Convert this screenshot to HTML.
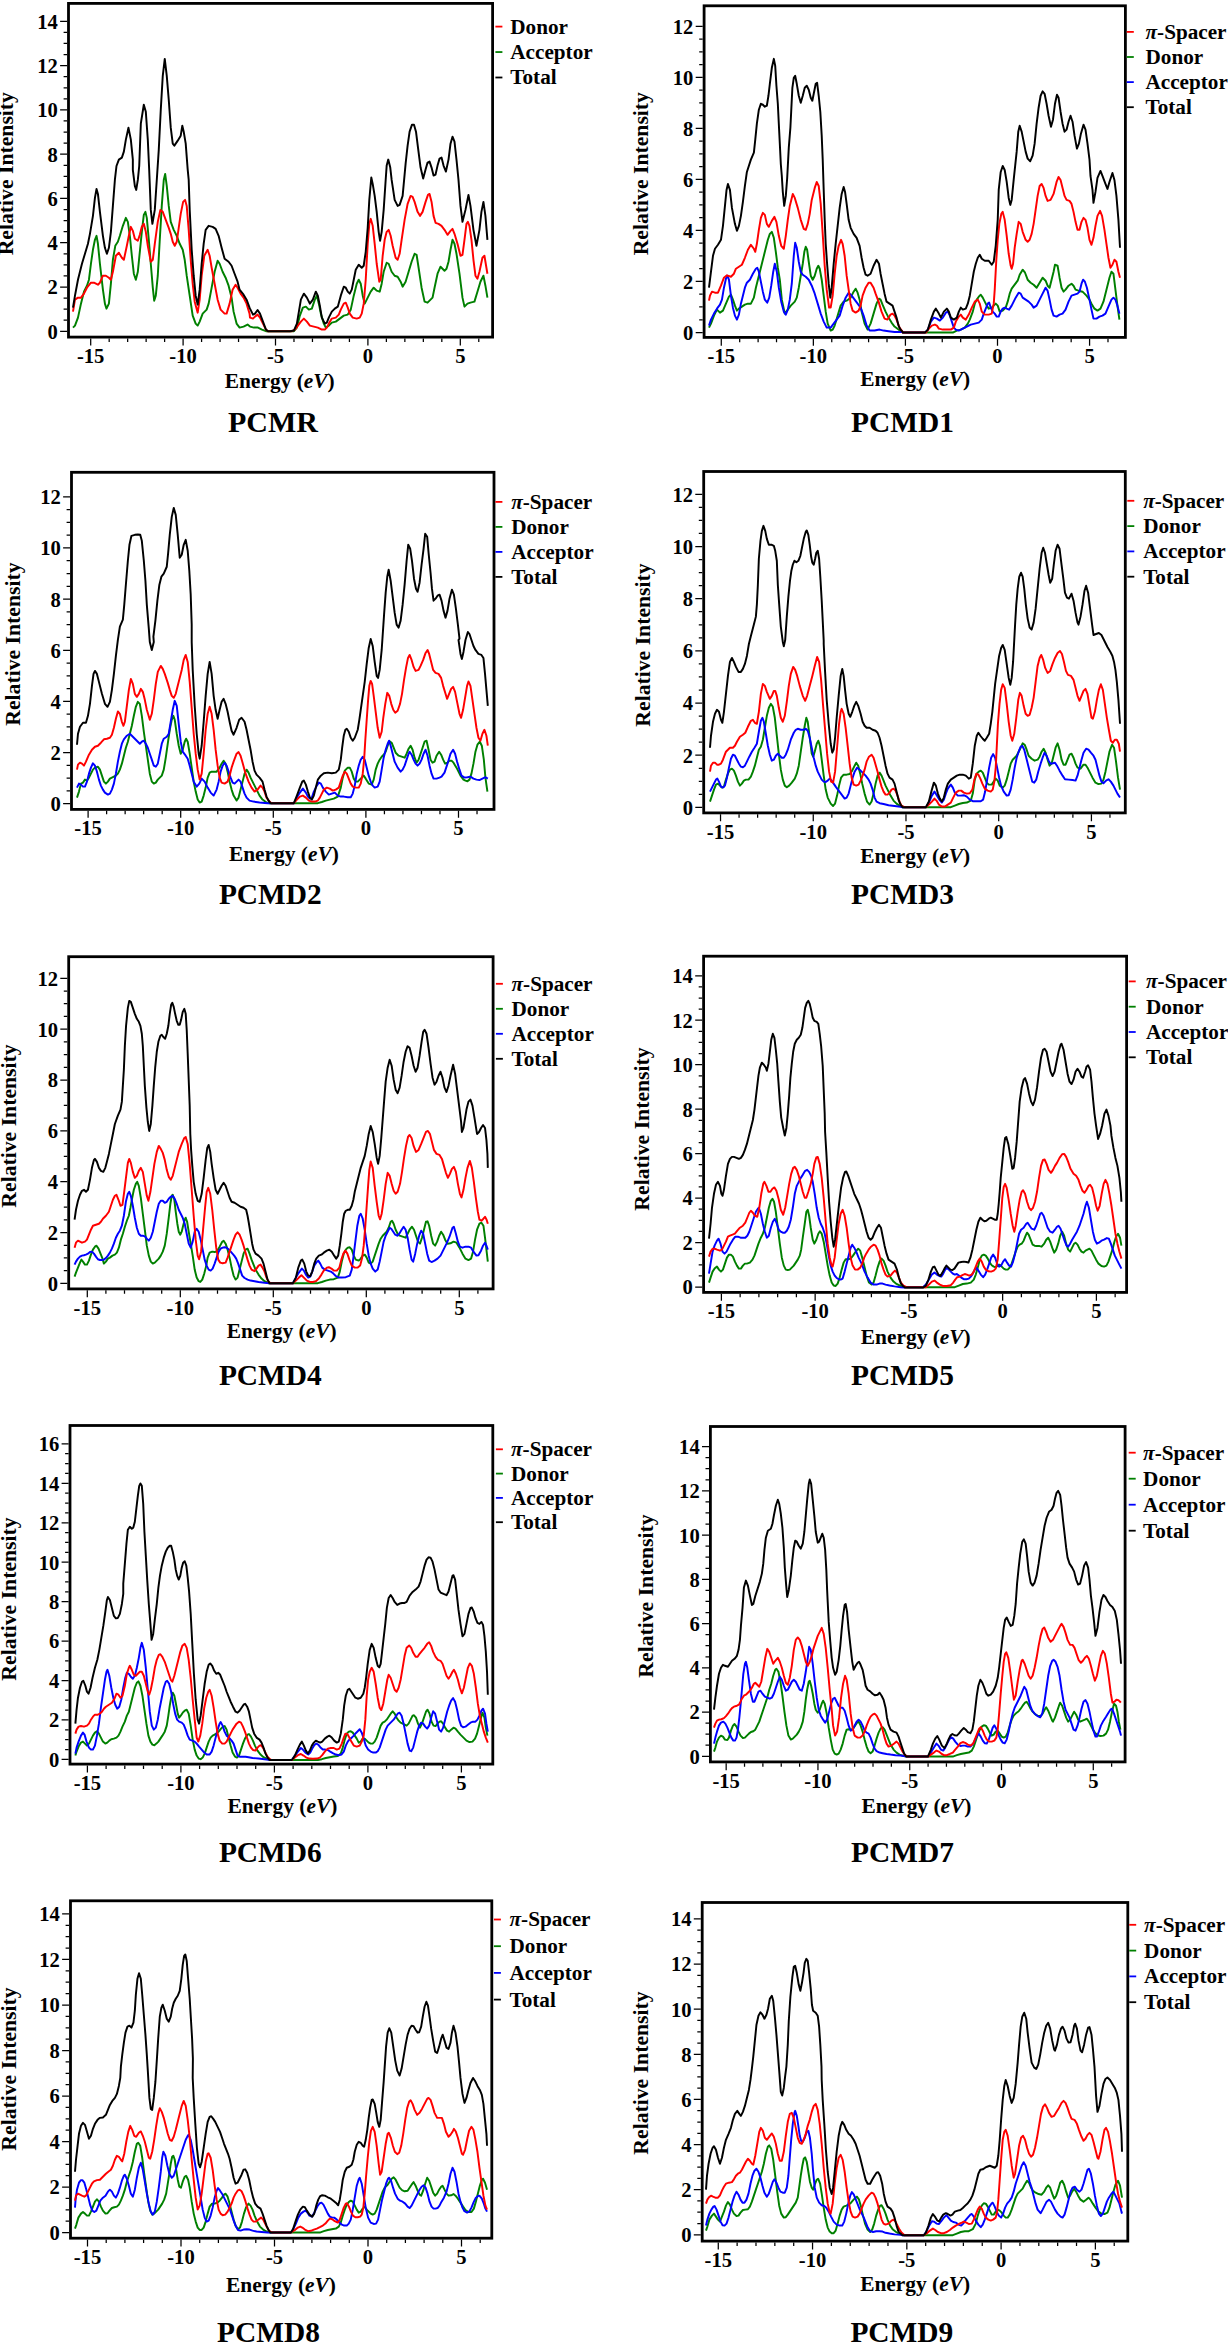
<!DOCTYPE html>
<html><head><meta charset="utf-8"><style>
html,body{margin:0;padding:0;background:#fff;overflow:hidden;}
svg{display:block;}
text{font-family:"Liberation Serif", serif;font-weight:bold;fill:#000;}
.t{font-size:20.6px;}
.lg{font-size:21.2px;}
.xl{font-size:21.4px;}
.yl{font-size:21.7px;}
</style></head><body>
<svg width="1228" height="2343" viewBox="0 0 1228 2343">
<text x="57.8" y="338.7" text-anchor="end" class="t">0</text>
<text x="57.8" y="294.42" text-anchor="end" class="t">2</text>
<text x="57.8" y="250.14" text-anchor="end" class="t">4</text>
<text x="57.8" y="205.86" text-anchor="end" class="t">6</text>
<text x="57.8" y="161.58" text-anchor="end" class="t">8</text>
<text x="57.8" y="117.3" text-anchor="end" class="t">10</text>
<text x="57.8" y="73.02" text-anchor="end" class="t">12</text>
<text x="57.8" y="28.74" text-anchor="end" class="t">14</text>
<text x="90.7" y="363.1" text-anchor="middle" class="t">-15</text>
<text x="183.1" y="363.1" text-anchor="middle" class="t">-10</text>
<text x="275.5" y="363.1" text-anchor="middle" class="t">-5</text>
<text x="367.9" y="363.1" text-anchor="middle" class="t">0</text>
<text x="460.3" y="363.1" text-anchor="middle" class="t">5</text>
<path d="M60.1 331.3H67.1M63.6 320.23H67.1M63.6 309.16H67.1M63.6 298.09H67.1M60.1 287.02H67.1M63.6 275.95H67.1M63.6 264.88H67.1M63.6 253.81H67.1M60.1 242.74H67.1M63.6 231.67H67.1M63.6 220.6H67.1M63.6 209.53H67.1M60.1 198.46H67.1M63.6 187.39H67.1M63.6 176.32H67.1M63.6 165.25H67.1M60.1 154.18H67.1M63.6 143.11H67.1M63.6 132.04H67.1M63.6 120.97H67.1M60.1 109.9H67.1M63.6 98.83H67.1M63.6 87.76H67.1M63.6 76.69H67.1M60.1 65.62H67.1M63.6 54.55H67.1M63.6 43.48H67.1M63.6 32.41H67.1M60.1 21.34H67.1M90.7 338.5V345.5M109.18 338.5V342M127.66 338.5V342M146.14 338.5V342M164.62 338.5V342M183.1 338.5V345.5M201.58 338.5V342M220.06 338.5V342M238.54 338.5V342M257.02 338.5V342M275.5 338.5V345.5M293.98 338.5V342M312.46 338.5V342M330.94 338.5V342M349.42 338.5V342M367.9 338.5V345.5M386.38 338.5V342M404.86 338.5V342M423.34 338.5V342M441.82 338.5V342M460.3 338.5V345.5M478.78 338.5V342" stroke="#000" stroke-width="1.25" fill="none"/>
<polyline points="72.99,327.59 74.98,325.59 77.97,317.61 80.97,303.65 83.96,291.68 86.95,285.69 88.95,279.71 90.94,263.75 92.94,249.78 94.93,239.8 96.53,235.81 97.92,243.79 99.92,263.75 102.91,289.68 104.91,303.65 106.5,308.64 108.9,303.65 110.89,283.7 112.89,259.76 115.28,245.79 117.88,241.8 119.87,235.81 122.86,225.84 125.86,217.86 127.85,221.85 129.85,235.81 131.84,255.77 133.84,273.72 135.83,279.71 137.83,271.73 139.82,251.78 141.82,231.82 143.81,214.87 145.41,211.87 146.8,217.86 148.8,239.8 150.79,263.75 152.79,287.69 154.19,300.66 155.78,295.67 157.78,275.72 159.77,239.8 161.77,205.89 163.76,179.95 165.16,173.97 166.76,185.94 168.75,205.89 170.75,221.85 173.74,229.83 176.73,235.81 179.72,243.79 182.72,249.78 184.71,259.76 186.71,275.72 189.7,295.67 192.69,315.62 195.68,323.6 197.68,325.59 199.68,321.6 202.67,313.62 206.66,309.63 208.65,303.65 211.65,287.69 214.64,271.73 217.63,260.75 219.63,263.75 222.62,271.73 225.61,277.71 228.6,285.69 231.6,297.66 233.59,311.63 236.58,323.6 239.58,327.59 243.57,326.59 247.56,324.6 250,326.59 253.99,327.59 257.98,327.59 261.97,329.58 265.96,331.18 293.89,331.18 296.89,327.59 299.88,315.62 302.87,307.64 305.86,306.64 308.86,309.63 311.85,308.64 314.84,299.66 316.84,295.67 318.83,303.65 320.83,313.62 323.82,323.6 325.81,327.59 328.81,325.59 331.8,322.6 335.79,321.6 339.78,318.61 343.77,315.62 347.76,314.62 350.75,309.63 353.75,295.67 356.74,283.7 358.73,279.71 360.73,283.7 362.72,295.67 364.72,303.65 367.71,297.66 370.7,291.68 373.7,287.69 376.69,290.68 379.68,291.68 381.68,283.7 383.67,271.73 386.67,262.75 388.66,263.75 391.65,271.73 394.65,275.72 397.64,276.71 400.63,281.7 402.63,286.69 405.62,281.7 408.61,271.73 411.6,261.75 414.6,253.77 416.59,254.77 418.59,267.74 421.58,287.69 424.57,301.65 427.57,302.65 430.56,299.66 432.55,297.66 434.55,287.69 437.54,273.72 440.53,266.74 442.53,268.73 444.52,270.73 446.52,268.73 448.51,261.75 450.51,249.78 452.5,239.8 454.5,243.79 456.49,253.77 459.49,273.72 462.48,297.66 464.47,306.64 467.47,303.65 470.46,302.65 474.45,301.65 477.44,291.68 480.44,281.7 483.43,275.72 485.42,285.69 487.42,297.66" fill="none" stroke="#008000" stroke-width="1.95" stroke-linejoin="round"/>
<polyline points="72.99,311.63 74.98,299.66 77.97,297.66 80.97,297.66 83.96,293.67 86.95,287.69 90.94,282.7 93.93,282.7 97.92,284.69 99.92,282.7 102.91,275.72 105.9,275.72 108.9,277.71 110.89,279.71 112.89,271.73 115.88,255.77 118.87,252.77 121.87,257.76 123.86,259.76 126.85,245.79 128.85,235.81 130.84,226.84 132.84,230.83 134.83,238.81 137.83,240.8 139.82,234.82 141.82,226.84 143.81,223.84 145.81,231.82 147.8,245.79 150.79,261.75 152.79,259.76 154.79,243.79 157.78,221.85 160.37,209.88 162.77,211.87 165.76,219.85 168.75,227.83 170.75,233.82 172.74,241.8 174.74,245.79 176.73,241.8 178.73,227.83 180.72,213.87 183.12,201.9 185.11,199.9 186.71,205.89 188.7,229.83 190.7,259.76 192.69,283.7 194.69,301.65 197.68,312.63 199.68,299.66 201.67,275.72 204.26,255.77 207.66,249.78 209.65,255.77 211.65,267.74 214.64,283.7 217.63,299.66 220.62,309.63 224.61,313.62 226.61,313.62 229.6,303.65 232.59,289.68 235.59,284.69 237.58,287.69 240.57,293.67 243.57,297.66 246.56,303.65 249.55,313.62 250,317.61 252.99,318.61 254.99,316.62 257.58,314.62 259.98,317.61 262.97,323.6 265.96,329.58 267.96,331.18 291.9,331.18 294.89,329.58 297.88,325.59 300.88,321.6 303.87,318.61 306.86,321.6 309.85,325.59 313.84,326.59 317.83,327.59 321.82,329.58 324.82,329.58 326.81,327.59 328.81,323.6 331.8,318.61 335.79,317.61 338.78,314.62 340.78,309.63 343.77,303.65 345.77,302.65 347.76,307.64 349.76,313.62 352.75,317.61 356.74,318.61 359.73,317.61 361.73,313.62 363.72,303.65 365.72,279.71 367.71,243.79 369.31,223.84 370.7,218.86 372.7,225.84 374.69,243.79 376.69,263.75 379.28,281.7 380.68,279.71 382.68,255.77 384.67,239.8 386.67,231.82 388.66,229.83 390.66,235.81 392.65,245.79 395.64,257.76 397.64,259.76 399.63,253.77 401.63,239.8 404.62,219.85 407.61,203.89 410.61,195.91 412.6,196.91 414.6,201.9 417.59,211.87 419.98,215.86 422.58,211.87 425.57,201.9 427.96,194.91 429.56,193.92 431.56,201.9 433.55,215.86 435.55,222.85 438.54,223.84 441.53,225.84 444.52,229.83 447.52,234.82 450.51,230.83 452.5,228.83 454.5,233.82 457.49,243.79 460.48,255.77 462.48,254.77 464.47,239.8 466.47,223.84 467.87,221.85 469.46,225.84 471.46,239.8 473.45,259.76 475.45,275.72 477.44,278.71 479.44,271.73 482.43,257.76 484.43,255.77 486.42,267.74 487.42,273.72" fill="none" stroke="#ff0000" stroke-width="1.95" stroke-linejoin="round"/>
<polyline points="72.99,307.64 74.98,295.67 77.97,279.71 81.96,263.75 84.96,253.77 87.95,243.79 89.94,233.82 92.94,215.86 94.93,197.91 96.53,188.93 97.92,193.92 99.92,211.87 102.91,235.81 104.91,247.79 106.9,253.77 108.9,247.79 110.89,231.82 112.89,205.89 114.88,179.95 116.48,165.99 118.87,159.61 121.87,157.61 123.86,151.63 125.86,139.66 128.45,127.69 130.84,139.66 132.84,159.61 132.84,169.98 134.83,185.94 136.23,189.93 137.83,179.95 139.22,165.99 140.82,123.7 143.81,104.74 145.81,111.73 147.8,139.66 149.2,169.98 150.79,209.88 152.39,223.84 154.79,209.88 156.78,179.95 158.78,149.63 160.77,109.73 162.77,75.81 164.76,58.86 166.76,75.81 168.75,99.76 170.75,127.69 172.74,143.65 174.34,145.64 177.73,140.66 180.72,135.67 182.32,125.69 183.71,131.68 185.71,143.65 187.7,169.58 188.7,179.95 189.7,209.88 191.69,249.78 193.69,275.72 195.68,295.67 197.68,304.65 199.68,289.68 201.67,263.75 203.67,243.79 205.66,229.83 208.65,225.84 212.64,226.84 215.64,228.83 218.63,235.81 221.62,247.79 224.61,258.76 228.6,261.75 231.6,265.74 234.59,273.72 237.58,281.7 239.58,289.68 243.57,294.67 246.56,299.66 249.55,307.64 250,308.64 252.99,314.62 254.99,313.62 257.58,310.03 259.98,313.62 262.97,321.6 265.96,329.58 267.96,331.18 289.9,331.18 293.89,330.58 296.89,323.6 298.88,311.63 300.88,299.66 303.87,293.67 306.86,297.66 309.85,303.65 312.85,299.66 315.84,291.68 317.83,295.67 319.83,305.64 321.82,317.61 324.82,323.6 326.81,322.6 328.81,317.61 331.8,311.63 334.79,308.64 337.79,306.64 340.78,295.67 343.77,286.69 345.77,287.69 347.76,291.68 349.76,293.67 351.75,289.68 353.75,279.71 355.74,269.73 358.73,264.74 361.73,267.74 363.72,265.74 365.72,251.78 367.71,227.83 369.31,199.9 371.3,177.57 372.7,183.95 374.69,195.91 376.69,211.87 378.68,231.82 380.08,240.8 381.68,231.82 383.67,209.88 385.67,179.95 386.67,165.59 388.26,159.61 390.26,167.59 391.65,179.95 394.65,199.9 397.64,205.89 399.63,204.89 402.63,195.91 405.62,163.6 407.61,145.64 409.61,131.68 412,124.69 414,124.69 415.99,131.68 417.99,147.64 420.58,167.59 423.18,178.56 425.57,169.58 427.57,162.6 429.56,161.6 431.56,167.59 433.55,175.57 435.55,174.57 437.54,165.59 439.54,158.61 441.53,157.61 443.53,165.59 445.92,171.58 448.51,159.61 450.51,143.65 452.5,136.67 454.5,141.65 456.49,159.61 458.49,179.95 460.48,205.89 462.48,221.85 465.47,209.88 468.46,194.91 470.46,205.89 473.45,229.83 476.45,245.79 479.44,229.83 481.43,211.87 483.43,201.9 485.42,215.86 487.42,239.8" fill="none" stroke="#000000" stroke-width="1.95" stroke-linejoin="round"/>
<rect x="68.5" y="3.4" width="424.1" height="333.7" fill="none" stroke="#000" stroke-width="2.8"/>
<line x1="495.4" y1="26.6" x2="502.4" y2="26.6" stroke="#ff0000" stroke-width="1.8"/>
<text x="510.3" y="33.5" class="lg">Donor</text>
<line x1="495.4" y1="52.05" x2="502.4" y2="52.05" stroke="#008000" stroke-width="1.8"/>
<text x="510.3" y="58.95" class="lg">Acceptor</text>
<line x1="495.4" y1="77.5" x2="502.4" y2="77.5" stroke="#000000" stroke-width="1.8"/>
<text x="510.3" y="84.4" class="lg">Total</text>
<text x="228" y="431.9" class="ti" font-size="30">PCMR</text>
<text x="224.8" y="388" class="xl">Energy (<tspan font-style="italic">eV</tspan>)</text>
<text transform="translate(13,173.7) rotate(-90)" text-anchor="middle" class="yl">Relative Intensity</text>
<text x="693.4" y="339.9" text-anchor="end" class="t">0</text>
<text x="693.4" y="288.88" text-anchor="end" class="t">2</text>
<text x="693.4" y="237.86" text-anchor="end" class="t">4</text>
<text x="693.4" y="186.84" text-anchor="end" class="t">6</text>
<text x="693.4" y="135.82" text-anchor="end" class="t">8</text>
<text x="693.4" y="84.8" text-anchor="end" class="t">10</text>
<text x="693.4" y="33.78" text-anchor="end" class="t">12</text>
<text x="721.28" y="363.4" text-anchor="middle" class="t">-15</text>
<text x="813.35" y="363.4" text-anchor="middle" class="t">-10</text>
<text x="905.42" y="363.4" text-anchor="middle" class="t">-5</text>
<text x="997.5" y="363.4" text-anchor="middle" class="t">0</text>
<text x="1089.58" y="363.4" text-anchor="middle" class="t">5</text>
<path d="M695.7 332.5H702.7M699.2 319.75H702.7M699.2 306.99H702.7M699.2 294.24H702.7M695.7 281.48H702.7M699.2 268.73H702.7M699.2 255.97H702.7M699.2 243.21H702.7M695.7 230.46H702.7M699.2 217.7H702.7M699.2 204.95H702.7M699.2 192.19H702.7M695.7 179.44H702.7M699.2 166.69H702.7M699.2 153.93H702.7M699.2 141.17H702.7M695.7 128.42H702.7M699.2 115.66H702.7M699.2 102.91H702.7M699.2 90.15H702.7M695.7 77.4H702.7M699.2 64.64H702.7M699.2 51.89H702.7M699.2 39.13H702.7M695.7 26.38H702.7M721.28 338.8V345.8M739.69 338.8V342.3M758.11 338.8V342.3M776.52 338.8V342.3M794.93 338.8V342.3M813.35 338.8V345.8M831.76 338.8V342.3M850.18 338.8V342.3M868.6 338.8V342.3M887.01 338.8V342.3M905.42 338.8V345.8M923.84 338.8V342.3M942.25 338.8V342.3M960.67 338.8V342.3M979.09 338.8V342.3M997.5 338.8V345.8M1015.91 338.8V342.3M1034.33 338.8V342.3M1052.74 338.8V342.3M1071.16 338.8V342.3M1089.58 338.8V345.8M1107.99 338.8V342.3" stroke="#000" stroke-width="1.25" fill="none"/>
<polyline points="708.99,327.59 710.98,323.6 713.97,315.62 716.97,309.63 719.96,312.63 722.95,310.63 725.94,303.65 728.94,296.67 730.93,294.67 732.93,299.66 734.92,305.64 736.92,310.63 738.91,308.64 741.9,306.64 744.9,304.65 747.89,303.65 750.88,303.65 753.88,297.66 755.87,287.69 758.86,275.72 761.86,263.75 764.85,251.78 767.84,239.8 769.84,233.82 771.83,231.82 773.83,237.81 775.82,251.78 777.82,267.74 779.81,279.71 781.81,299.66 784.8,313.62 787.79,309.63 790.79,305.64 794.78,301.65 796.77,297.66 798.77,287.69 800.76,275.72 802.76,263.75 804.35,251.78 805.75,246.79 807.14,249.78 808.74,261.75 810.74,275.72 812.73,279.71 814.73,275.72 816.72,268.73 818.32,265.74 819.71,268.73 821.71,279.71 823.7,295.67 825.7,311.63 827.69,323.6 830.69,330.58 832.68,329.58 834.68,325.59 837.67,315.62 840.66,305.64 843.66,301.65 846.65,300.66 850.64,297.66 853.63,291.68 855.63,288.68 857.62,292.68 859.62,299.66 861.61,311.63 864.6,323.6 867.6,329.58 870.59,323.6 873.58,313.62 876.57,303.65 878.97,298.66 880.57,299.66 882.56,304.65 885.55,311.63 888.55,317.61 891.54,322.6 894.53,326.59 898.52,329.58 902.51,331.58 902.95,332.58 952.83,332.58 956.82,330.58 960.81,329.58 964.8,327.59 967.79,323.6 969.79,319.61 972.78,311.63 974.78,303.65 976.77,299.66 978.77,296.67 980.76,294.67 982.76,297.66 984.75,301.65 986.75,305.64 988.74,308.64 991.73,307.64 993.73,305.64 995.72,303.65 997.72,305.64 999.71,311.63 1002.71,310.63 1005.7,307.64 1007.69,301.65 1009.69,293.67 1011.68,288.68 1014.68,284.69 1017.67,280.7 1019.67,274.72 1022.66,269.73 1025.05,272.72 1027.65,279.71 1030.64,282.7 1033.63,284.69 1036.62,287.69 1039.62,282.7 1042.61,277.71 1045.6,280.7 1047.6,285.69 1049.59,287.69 1051.59,279.71 1053.58,271.73 1054.98,264.74 1057.57,265.74 1059.57,277.71 1061.56,287.69 1063.56,291.68 1065.55,289.68 1068.55,285.69 1071.54,283.7 1073.53,285.69 1075.53,289.68 1078.52,290.68 1082.51,291.68 1086.5,295.67 1089.49,299.66 1091.49,303.65 1094.48,308.64 1097.47,310.63 1100.47,308.64 1103.46,301.65 1106.45,289.68 1109.45,277.71 1111.44,271.73 1113.44,273.72 1115.43,289.68 1117.43,305.64 1119.42,319.61" fill="none" stroke="#008000" stroke-width="1.95" stroke-linejoin="round"/>
<polyline points="708.99,325.59 710.98,319.61 713.97,313.62 716.97,308.64 719.96,304.65 721.95,299.66 723.95,287.69 725.94,278.71 727.34,275.72 728.94,279.71 730.93,295.67 732.93,307.64 734.92,315.62 736.92,319.61 738.91,314.62 740.91,303.65 742.9,295.67 744.9,287.69 746.89,282.7 749.89,279.71 752.88,273.72 755.87,268.73 757.27,267.74 758.86,271.73 760.86,281.7 762.85,291.68 764.85,299.66 767.24,302.65 769.24,297.66 771.23,285.69 773.23,271.73 774.82,263.75 776.82,271.73 778.81,287.69 781.21,301.65 783.8,311.63 785.8,314.62 787.79,309.63 789.79,299.66 791.78,283.7 793.78,255.77 795.17,242.8 796.77,247.79 798.77,261.75 800.76,271.73 802.76,274.72 805.75,276.71 808.74,279.71 811.73,285.69 814.73,293.67 817.72,303.65 820.71,313.62 823.7,321.6 826.7,327.59 830.69,327.59 833.68,323.6 836.67,319.61 839.67,315.62 842.66,305.64 845.65,297.66 848.64,292.68 851.64,295.67 854.63,299.66 857.62,303.65 860.61,307.64 863.61,315.62 866.6,325.59 869.59,330.58 874.58,330.58 879.57,329.58 883.56,330.58 888.55,331.18 894.53,331.98 902.51,331.98 902.95,332.58 924.9,332.58 927.89,329.58 930.88,321.6 933.88,317.61 936.87,318.61 939.86,320.61 942.85,317.61 945.85,312.63 947.84,311.63 949.84,315.62 951.83,321.6 953.83,327.59 955.82,329.58 958.81,330.58 962.8,328.59 966.79,326.59 970.79,324.6 974.78,323.6 978.77,322.6 981.76,319.61 983.75,313.62 985.75,308.64 987.74,303.65 989.14,302.65 990.74,307.64 992.73,311.63 994.73,313.62 996.72,316.62 998.72,316.62 1000.71,311.63 1002.71,308.64 1004.7,307.64 1006.7,308.64 1009.09,309.63 1011.68,305.64 1013.68,301.65 1015.68,297.66 1018.67,292.68 1020.66,293.67 1022.66,297.66 1025.65,299.66 1028.64,301.65 1031.64,304.65 1033.63,307.64 1036.62,305.64 1039.62,299.66 1042.61,293.67 1045.6,287.69 1047.6,290.68 1049.59,299.66 1051.59,309.63 1053.58,315.62 1056.57,316.62 1059.57,314.62 1062.56,313.62 1065.55,309.63 1068.55,301.65 1071.54,295.67 1074.53,294.67 1077.52,293.67 1079.52,291.68 1081.51,283.7 1083.11,279.71 1084.91,281.7 1086.9,287.69 1089.49,299.66 1091.49,309.63 1093.48,318.61 1096.48,318.61 1099.47,316.62 1102.46,315.62 1105.46,313.62 1108.45,306.64 1111.44,299.66 1113.44,297.66 1115.43,299.66 1117.43,305.64 1119.42,313.62" fill="none" stroke="#0000ff" stroke-width="1.95" stroke-linejoin="round"/>
<polyline points="708.99,300.66 709.98,295.67 711.98,291.68 714.97,292.68 717.96,292.68 720.96,285.69 723.95,277.71 726.94,275.32 730.93,276.71 733.92,273.72 735.92,268.73 738.91,266.74 741.9,264.74 744.9,257.76 747.89,249.78 750.88,244.79 753.88,248.78 755.27,251.78 756.87,243.79 758.86,229.83 760.86,217.86 762.85,212.87 764.85,214.87 766.84,223.84 768.84,226.84 771.83,220.85 774.43,216.86 776.42,221.85 778.81,235.81 781.21,245.79 783.8,248.78 785.8,235.81 787.79,219.85 789.79,205.89 792.78,193.92 794.78,197.91 797.77,207.88 800.76,219.85 803.75,228.83 805.75,229.83 807.74,223.84 809.74,213.87 811.73,199.9 814.73,187.93 816.72,181.95 818.72,185.94 820.71,203.89 822.71,233.82 824.7,265.74 826.7,289.68 829.09,307.64 830.69,307.64 832.68,295.67 834.68,273.72 836.67,255.77 838.67,245.79 841.06,239.8 842.66,243.79 844.65,255.77 846.65,275.72 848.64,289.68 850.64,303.65 852.63,310.63 855.63,312.63 858.62,310.63 860.61,305.64 862.61,295.67 865.6,287.69 868.59,282.7 870.59,282.7 873.58,287.69 875.58,293.67 878.57,301.65 881.56,311.63 884.56,318.61 887.55,319.61 890.54,314.62 892.54,313.62 894.53,315.62 896.53,319.61 899.52,327.59 902.51,331.58 902.95,332.58 925.89,332.58 928.89,328.59 931.88,325.59 934.87,324.6 936.87,325.59 938.86,328.59 942.85,329.58 946.84,329.58 950.83,329.58 953.83,327.59 955.82,321.6 958.81,316.62 960.81,314.62 962.8,317.61 965.8,319.61 968.79,314.62 971.78,307.64 974.78,301.65 977.77,299.66 979.76,303.65 981.76,311.63 984.75,314.62 988.74,314.62 991.73,313.62 993.73,303.65 994.73,289.68 996.32,259.76 997.72,239.8 999.32,223.84 1001.31,213.87 1002.71,211.87 1004.7,219.85 1006.7,235.81 1008.69,253.77 1010.69,265.74 1011.68,268.73 1013.08,263.75 1014.68,247.79 1016.67,233.82 1018.67,221.85 1020.66,223.84 1022.66,231.82 1025.65,239.8 1027.65,241.8 1029.64,239.8 1031.64,233.82 1033.63,223.84 1035.63,209.88 1037.62,195.91 1039.62,185.94 1041.61,183.94 1043.61,187.93 1045.6,195.91 1047.6,200.9 1050.59,199.9 1053.58,193.92 1056.57,181.95 1058.57,176.96 1060.57,179.95 1062.56,187.93 1064.56,195.91 1066.55,199.9 1069.54,200.9 1071.54,203.89 1073.53,211.87 1075.53,221.85 1077.52,229.83 1079.52,229.83 1081.51,221.85 1083.51,217.86 1085.5,219.85 1087.5,227.83 1089.49,239.8 1091.49,244.79 1093.48,237.81 1095.48,225.84 1097.47,215.86 1100.07,210.88 1102.06,215.86 1104.46,229.83 1106.45,243.79 1108.45,257.76 1110.44,267.74 1112.44,264.74 1114.43,259.76 1116.43,261.75 1118.42,271.73 1120.02,277.71" fill="none" stroke="#ff0000" stroke-width="1.95" stroke-linejoin="round"/>
<polyline points="708.99,287.69 710.98,271.73 712.98,255.77 714.97,248.78 717.96,244.79 720.96,239.8 722.95,225.84 724.95,205.89 726.54,189.93 727.94,183.94 729.93,189.93 731.93,207.88 734.92,223.84 736.92,230.83 738.91,225.84 740.91,215.86 742.9,201.9 744.9,185.94 746.89,171.97 750.88,159.61 753.88,152.63 755.27,139.66 756.87,123.7 758.86,109.73 760.86,103.75 762.85,104.74 764.85,106.74 766.84,105.74 768.44,95.77 769.84,83.79 771.83,67.83 773.83,58.86 775.22,65.84 776.42,85.79 777.82,103.75 778.81,123.7 779.81,143.65 780.81,163.99 781.81,175.96 782.8,191.92 784.2,205.89 785.8,195.91 787.19,177.96 788.79,147.64 790.39,127.69 791.38,107.74 792.38,87.79 793.78,77.81 795.17,75.81 796.77,83.79 798.77,95.77 800.76,102.75 802.76,95.77 804.75,87.79 806.75,85.79 808.74,89.78 810.74,97.76 812.33,100.75 813.73,93.77 815.72,83.79 817.12,82.8 818.72,95.77 820.31,111.73 821.71,135.67 822.71,159.61 823.7,189.93 824.7,219.85 825.7,243.79 827.1,263.75 828.69,283.7 830.29,297.66 831.68,287.69 833.68,263.75 835.68,243.79 837.67,225.84 839.67,207.88 841.66,193.92 843.66,186.93 845.05,191.92 846.65,203.89 848.64,219.85 850.64,227.83 853.63,233.82 856.62,237.81 859.62,245.79 861.61,257.76 863.61,267.74 865.6,274.72 867.6,275.72 870.59,273.72 873.58,265.74 876.57,259.76 878.97,263.75 880.57,273.72 882.56,283.7 884.56,293.67 886.55,301.65 889.54,303.65 892.54,305.64 894.53,311.63 896.53,317.61 898.52,325.59 900.52,329.58 902.51,331.98 902.95,332.58 924.9,332.58 927.89,329.58 930.88,319.61 933.88,311.63 935.87,308.64 938.86,313.62 940.86,317.61 943.85,311.63 946.84,308.64 948.84,311.63 950.83,317.61 953.83,319.61 956.82,317.61 958.81,311.63 960.81,307.64 962.8,309.63 965.8,308.64 967.79,303.65 969.79,295.67 971.78,283.7 973.78,271.73 975.77,263.75 977.77,257.76 979.76,254.77 981.76,258.76 984.75,260.75 988.74,260.75 991.73,264.74 993.73,261.75 995.72,245.79 997.72,219.85 998.72,189.93 1000.71,171.97 1002.71,165.99 1004.7,169.98 1006.7,181.95 1008.69,197.91 1010.29,204.89 1011.68,199.9 1013.68,179.95 1016.67,151.63 1018.27,131.68 1019.67,125.69 1021.66,131.68 1023.66,141.65 1025.65,151.63 1027.65,158.61 1030.24,161.21 1032.63,155.62 1034.63,143.65 1036.62,123.7 1038.62,107.74 1040.61,95.77 1042.61,91.38 1044.6,93.77 1046.6,103.75 1048.59,115.72 1050.99,126.69 1052.98,119.71 1054.98,103.75 1056.97,94.77 1058.57,97.76 1060.57,111.73 1062.56,123.7 1064.56,131.68 1066.55,129.68 1068.55,121.7 1070.54,115.72 1072.54,121.7 1074.53,135.67 1076.93,148.64 1078.92,143.65 1080.92,133.67 1083.51,124.69 1085.5,129.68 1087.5,143.65 1089.49,159.61 1090.49,175.96 1092.49,189.93 1093.48,202.89 1095.48,191.92 1097.47,177.96 1100.47,170.97 1102.46,175.96 1105.46,183.94 1107.45,188.93 1109.45,181.95 1112.44,172.97 1114.43,179.95 1116.43,195.91 1118.42,219.85 1120.02,247.79" fill="none" stroke="#000000" stroke-width="1.95" stroke-linejoin="round"/>
<rect x="704.1" y="5.8" width="421.3" height="331.6" fill="none" stroke="#000" stroke-width="2.8"/>
<line x1="1126.8" y1="31.9" x2="1133.8" y2="31.9" stroke="#ff0000" stroke-width="1.8"/>
<text x="1145.5" y="38.8" class="lg"><tspan font-style="italic">π</tspan>-Spacer</text>
<line x1="1126.8" y1="57" x2="1133.8" y2="57" stroke="#008000" stroke-width="1.8"/>
<text x="1145.5" y="63.9" class="lg">Donor</text>
<line x1="1126.8" y1="82.1" x2="1133.8" y2="82.1" stroke="#0000ff" stroke-width="1.8"/>
<text x="1145.5" y="89" class="lg">Acceptor</text>
<line x1="1126.8" y1="107.2" x2="1133.8" y2="107.2" stroke="#000000" stroke-width="1.8"/>
<text x="1145.5" y="114.1" class="lg">Total</text>
<text x="851.1" y="431.7" class="ti" font-size="29.4">PCMD1</text>
<text x="860.2" y="386.1" class="xl">Energy (<tspan font-style="italic">eV</tspan>)</text>
<text transform="translate(647.9,173.7) rotate(-90)" text-anchor="middle" class="yl">Relative Intensity</text>
<text x="60.8" y="811.1" text-anchor="end" class="t">0</text>
<text x="60.8" y="759.95" text-anchor="end" class="t">2</text>
<text x="60.8" y="708.8" text-anchor="end" class="t">4</text>
<text x="60.8" y="657.65" text-anchor="end" class="t">6</text>
<text x="60.8" y="606.5" text-anchor="end" class="t">8</text>
<text x="60.8" y="555.35" text-anchor="end" class="t">10</text>
<text x="60.8" y="504.2" text-anchor="end" class="t">12</text>
<text x="88.1" y="835.4" text-anchor="middle" class="t">-15</text>
<text x="180.7" y="835.4" text-anchor="middle" class="t">-10</text>
<text x="273.3" y="835.4" text-anchor="middle" class="t">-5</text>
<text x="365.9" y="835.4" text-anchor="middle" class="t">0</text>
<text x="458.5" y="835.4" text-anchor="middle" class="t">5</text>
<path d="M63.1 803.7H70.1M66.6 790.91H70.1M66.6 778.12H70.1M66.6 765.34H70.1M63.1 752.55H70.1M66.6 739.76H70.1M66.6 726.98H70.1M66.6 714.19H70.1M63.1 701.4H70.1M66.6 688.61H70.1M66.6 675.83H70.1M66.6 663.04H70.1M63.1 650.25H70.1M66.6 637.46H70.1M66.6 624.68H70.1M66.6 611.89H70.1M63.1 599.1H70.1M66.6 586.31H70.1M66.6 573.53H70.1M66.6 560.74H70.1M63.1 547.95H70.1M66.6 535.16H70.1M66.6 522.38H70.1M66.6 509.59H70.1M63.1 496.8H70.1M88.1 810.8V817.8M106.62 810.8V814.3M125.14 810.8V814.3M143.66 810.8V814.3M162.18 810.8V814.3M180.7 810.8V817.8M199.22 810.8V814.3M217.74 810.8V814.3M236.26 810.8V814.3M254.78 810.8V814.3M273.3 810.8V817.8M291.82 810.8V814.3M310.34 810.8V814.3M328.86 810.8V814.3M347.38 810.8V814.3M365.9 810.8V817.8M384.42 810.8V814.3M402.94 810.8V814.3M421.46 810.8V814.3M439.98 810.8V814.3M458.5 810.8V817.8M477.02 810.8V814.3" stroke="#000" stroke-width="1.25" fill="none"/>
<polyline points="76.98,797.59 78.98,791.6 80.97,783.62 82.97,782.63 84.96,779.63 86.96,780.63 88.95,777.64 90.95,773.65 92.94,769.66 94.94,767.66 97.93,766.67 99.93,769.66 101.92,775.64 103.92,781.63 105.91,783.62 107.91,781.63 109.9,778.64 111.9,777.64 113.89,776.64 115.89,775.64 117.88,773.65 119.88,769.66 121.87,763.67 123.87,755.69 125.86,747.71 127.86,741.73 129.85,733.75 131.85,725.77 133.84,715.79 135.84,706.81 137.83,701.82 139.83,703.82 141.82,715.79 143.82,731.75 145.81,745.72 147.81,759.68 149.8,773.65 151.8,781.63 153.79,783.62 155.79,782.63 157.79,779.63 159.78,777.64 161.78,775.64 163.77,769.66 165.77,757.69 167.76,743.72 169.76,729.76 171.75,719.78 173.35,715.79 174.74,719.78 176.74,733.75 178.73,745.72 180.73,753.7 182.72,749.71 184.72,741.73 186.12,738.73 187.71,741.73 189.71,753.7 191.7,767.66 193.7,781.63 195.69,791.6 197.69,799.58 199.68,802.58 201.68,801.58 203.67,795.59 205.67,787.61 207.66,777.64 209.66,772.65 211.65,771.65 213.65,771.65 216.64,771.65 219.63,767.66 221.63,763.67 223.62,760.68 225.62,763.67 227.61,771.65 229.61,781.63 231.6,789.61 233.6,795.59 236.59,800.58 238.59,797.59 240.58,789.61 242.58,781.63 244.57,773.65 246.57,769.66 248.56,772.65 250.56,777.64 252.55,781.63 254.55,785.62 256.54,789.61 259.54,795.59 262.53,799.58 266.52,802.58 269.51,803.18 271.95,803.18 317.83,803.18 321.82,801.98 325.81,800.58 329.8,799.58 333.79,798.59 337.79,796.59 340.78,787.61 342.77,777.64 344.77,770.66 347.76,767.66 349.76,767.66 351.75,771.65 353.75,778.64 355.74,781.63 357.74,781.63 359.73,779.63 361.73,777.64 363.72,775.64 365.72,778.64 368.71,783.62 371.7,784.62 373.7,779.63 375.69,769.66 377.69,763.67 379.68,759.68 381.68,756.69 383.67,754.69 385.67,751.7 387.66,745.72 389.66,741.33 391.65,742.72 393.65,747.71 395.64,752.7 398.64,755.69 401.63,756.69 404.62,757.69 406.62,753.7 408.61,748.71 410.61,745.72 412.6,749.71 414.6,757.69 416.59,762.68 418.59,759.68 420.58,753.7 422.58,747.71 424.57,741.73 426.57,740.73 428.56,749.71 430.56,759.68 432.55,762.68 434.55,761.68 436.54,755.69 439.14,751.7 441.13,754.69 443.13,759.68 445.12,763.67 447.52,762.68 449.51,760.68 451.51,760.68 453.5,762.68 456.49,767.66 458.49,771.65 460.48,775.64 463.48,779.63 465.47,780.63 467.47,781.23 469.46,779.63 471.46,773.65 473.45,763.67 475.45,751.7 477.44,744.72 479.84,741.73 481.83,745.72 483.83,759.68 485.42,777.64 487.42,791.6" fill="none" stroke="#008000" stroke-width="1.95" stroke-linejoin="round"/>
<polyline points="76.98,787.61 78.98,783.62 80.97,784.62 82.97,786.62 84.96,786.62 86.96,781.63 88.95,773.65 90.95,767.66 92.94,763.27 94.94,765.67 96.93,771.65 98.93,779.63 100.92,785.62 102.92,789.61 104.91,792.6 107.91,794.6 109.9,793.6 111.9,789.61 113.89,783.62 115.89,773.65 117.88,761.68 119.88,751.7 121.87,743.72 123.87,739.33 126.86,735.74 129.85,733.75 131.85,735.74 134.84,738.73 137.83,741.73 139.83,743.72 141.82,741.73 143.82,740.73 145.81,743.72 147.81,747.71 149.8,753.7 151.8,759.68 153.79,765.67 155.79,766.67 157.79,763.67 159.78,753.7 161.78,743.72 163.77,738.73 166.76,736.74 168.76,733.75 170.75,721.78 172.75,709.8 174.74,700.83 176.74,705.81 178.73,723.77 180.73,741.73 182.72,751.7 185.72,755.69 187.71,758.68 189.71,765.67 193.7,781.63 196.69,786.62 199.28,783.62 201.68,778.64 204.67,781.63 207.66,787.61 210.66,792.6 213.65,795.59 216.64,789.61 218.64,781.63 220.63,771.65 222.63,765.67 224.62,762.68 226.62,765.67 228.61,771.65 230.61,777.64 232.6,782.63 234.6,783.62 236.59,781.63 238.59,779.63 240.58,781.63 242.58,787.61 244.57,793.6 246.57,797.59 249.56,800.58 253.55,801.58 259.54,802.58 267.52,803.18 270.51,803.18 271.95,803.18 293.89,803.18 296.89,797.59 299.88,792.6 302.87,788.61 305.86,792.6 307.86,796.59 309.85,798.59 311.85,797.59 313.84,791.6 316.84,785.62 318.83,782.63 320.83,783.62 322.82,787.61 325.81,791.6 328.81,794.6 331.8,793.6 334.79,792.6 337.79,795.59 340.78,796.59 343.77,796.59 347.76,797.19 350.75,797.19 352.75,793.6 354.74,785.62 356.74,773.65 358.73,765.67 360.73,759.68 362.72,756.69 364.72,759.68 366.71,767.66 368.71,775.64 370.7,781.63 372.7,785.62 374.69,787.61 377.69,786.62 379.68,781.63 381.68,769.66 383.67,757.69 385.67,749.71 387.66,743.72 389.06,740.73 390.66,745.72 392.65,753.7 394.65,761.68 397.64,767.66 400.63,771.65 402.63,769.66 404.62,765.67 406.62,759.68 408.61,753.7 409.61,751.7 411.6,754.69 413.6,759.68 415.59,763.67 417.59,765.67 419.58,763.67 421.58,759.68 423.57,753.7 425.57,749.71 427.57,755.69 429.56,765.67 431.56,773.65 433.55,778.64 436.54,778.64 439.54,777.64 441.53,776.64 444.52,772.65 447.52,763.67 450.51,753.7 453.1,749.71 455.1,753.7 457.09,761.68 459.49,769.66 461.48,775.64 464.47,777.64 467.47,777.24 470.46,776.64 473.45,778.64 476.45,779.63 479.44,780.03 482.43,778.64 485.42,777.24 487.82,778.64" fill="none" stroke="#0000ff" stroke-width="1.95" stroke-linejoin="round"/>
<polyline points="76.98,769.66 77.98,764.67 79.98,762.68 81.97,763.67 83.97,765.67 85.96,761.68 88.95,754.69 91.95,749.71 94.94,746.71 97.93,745.72 100.92,742.72 103.92,739.33 106.91,738.73 109.9,737.74 111.9,734.74 113.89,727.76 115.89,718.78 117.88,711.4 119.88,713.79 121.87,721.78 123.47,725.77 124.87,721.78 126.86,705.81 128.86,689.85 130.85,678.88 132.85,683.87 134.84,693.84 136.84,696.84 138.83,693.84 140.83,688.86 142.82,691.85 144.82,699.83 146.81,709.8 149.8,719.78 151.8,713.79 153.79,699.83 155.79,683.87 157.79,671.9 160.78,665.91 162.77,668.9 164.77,673.89 167.76,682.87 169.76,689.85 171.75,695.84 173.75,697.83 175.74,693.84 177.74,685.86 179.73,677.88 181.73,669.9 183.72,659.93 185.72,654.94 187.71,661.92 189.71,681.87 191.7,707.81 193.7,733.75 195.69,753.7 197.69,769.66 199.68,779.63 201.68,773.65 203.67,753.7 205.67,729.76 207.66,713.79 209.66,706.81 211.65,713.79 213.65,729.76 215.64,749.71 217.64,765.67 219.63,777.64 221.63,782.63 224.62,783.62 227.61,781.63 229.61,775.64 231.6,767.66 233.6,761.68 236.59,753.7 238.59,752.1 240.58,755.69 242.58,762.68 245.57,773.65 248.56,781.63 251.56,787.61 254.55,791.6 257.54,789.61 260.53,785.62 262.53,787.61 264.52,791.6 266.52,797.59 269.51,801.58 271.51,803.18 271.95,803.18 293.89,803.18 296.89,799.58 299.88,796.59 302.87,795.59 305.86,797.59 308.86,800.58 311.85,801.58 314.84,801.58 317.83,800.58 319.83,797.59 321.82,793.6 323.82,789.61 326.81,787.61 329.8,788.61 332.8,790.61 335.79,789.61 338.78,787.61 340.78,781.63 342.77,775.64 344.77,771.65 346.76,773.65 348.76,778.64 350.75,783.62 352.75,786.62 355.74,787.61 358.73,787.61 360.73,783.62 362.72,773.65 364.12,759.68 365.32,739.73 366.71,719.78 368.11,699.83 369.31,685.86 370.7,680.88 372.1,683.87 373.7,695.84 375.69,711.8 377.69,727.76 379.68,737.74 381.68,731.75 383.27,717.79 385.27,703.82 387.26,692.85 389.26,695.84 391.25,703.82 393.25,709.8 395.24,712.8 397.64,710.8 400.03,703.82 402.03,693.84 404.02,679.88 406.02,667.91 408.01,657.93 409.61,654.94 411.6,659.93 413.6,666.91 415.59,670.9 418.59,669.9 420.58,665.91 423.18,659.93 425.57,652.94 427.57,649.95 429.16,653.94 431.16,661.92 433.15,669.9 435.55,672.89 438.54,673.89 441.13,677.88 443.13,685.86 445.52,693.84 447.12,698.83 449.11,693.84 451.11,688.86 453.1,686.86 455.1,691.85 457.09,701.82 459.49,713.79 461.08,717.79 463.08,709.8 465.07,697.83 467.07,685.86 468.46,681.47 470.46,685.86 472.46,699.83 474.45,713.79 476.45,727.76 478.44,737.74 480.44,740.73 482.43,733.75 484.43,729.76 486.42,735.74 487.82,745.72" fill="none" stroke="#ff0000" stroke-width="1.95" stroke-linejoin="round"/>
<polyline points="76.98,744.72 77.98,733.75 79.98,726.76 82.97,722.77 85.96,722.77 87.96,715.79 89.95,703.82 91.95,685.86 93.54,673.89 94.94,670.9 96.93,673.89 98.93,681.87 101.92,693.84 104.91,703.82 107.51,706.81 109.9,701.82 111.9,689.85 113.89,673.89 115.89,655.94 117.88,639.98 119.88,626.6 122.87,619.62 124.27,604.66 125.86,584.71 127.86,560.77 129.45,544.8 131.45,535.83 134.84,534.83 137.83,534.43 140.23,534.83 141.82,540.81 143.82,560.77 145.42,580.72 146.81,604.66 148.81,628.6 149.8,641.97 151.8,649.95 153.79,641.97 153.4,636.58 155.39,620.62 157.39,600.67 159.38,584.71 161.38,576.73 163.77,573.73 166.76,566.75 168.16,552.79 169.76,534.83 171.75,516.87 173.75,507.89 175.74,514.88 177.74,534.83 179.73,557.77 181.73,554.78 183.72,544.8 185.72,539.82 187.71,550.79 189.31,570.74 190.7,594.68 191.7,624.61 191.7,641.97 192.7,669.9 194.69,705.81 196.69,733.75 198.68,753.7 199.68,758.68 201.68,745.72 203.67,721.78 205.67,695.84 207.66,673.89 209.66,661.92 211.65,673.89 213.65,695.84 215.64,709.8 217.64,718.78 219.63,709.8 221.63,701.82 223.62,698.83 225.62,703.82 227.61,711.8 229.61,721.78 231.6,730.75 233.6,734.74 236.59,727.76 239.19,719.78 241.58,717.79 244.57,721.78 246.57,729.76 248.56,739.73 250.56,749.71 252.55,761.68 254.55,770.66 256.54,774.65 259.54,777.64 262.53,781.63 264.52,789.61 266.52,796.59 268.51,800.58 270.51,803.18 270.95,803.18 293.89,803.18 296.89,795.59 299.88,787.61 302.27,781.63 303.87,780.63 305.86,784.62 307.86,791.6 309.85,797.59 311.85,799.58 313.84,795.59 315.84,787.61 317.83,779.63 320.83,775.64 323.82,773.25 327.81,772.65 331.8,773.25 335.79,772.65 338.78,769.66 340.78,759.68 342.17,747.71 343.77,735.74 345.37,729.76 346.76,728.76 348.76,731.75 350.75,737.74 352.75,740.73 354.74,737.74 357.74,729.76 359.33,719.78 360.73,709.8 362.72,695.84 364.72,681.87 366.71,663.92 368.71,647.96 370.7,638.98 372.7,645.96 374.69,661.92 376.69,675.89 378.09,677.88 379.68,669.9 381.68,649.95 384.07,614.63 385.67,592.69 387.26,576.73 388.66,569.74 390.66,580.72 392.65,596.68 394.65,612.64 396.64,624.61 398.64,627.6 400.63,620.62 402.63,604.66 404.62,584.71 406.62,560.77 408.21,544.8 410.21,548.79 412,560.77 414,578.72 415.99,588.7 417.59,591.69 419.58,582.71 421.58,564.76 423.57,548.79 425.17,533.83 427.17,536.82 428.56,552.79 430.56,572.74 431.95,588.7 433.55,600.67 435.55,598.67 437.54,595.68 439.54,594.68 441.53,600.67 443.53,610.64 445.52,617.63 447.52,610.64 449.51,598.67 451.91,589.69 453.9,594.68 455.9,608.65 457.89,624.61 459.49,638.57 458.49,639.98 460.48,653.94 461.88,658.93 463.48,651.95 465.47,639.98 467.87,632 469.46,633.99 471.46,639.98 473.45,645.96 475.45,649.95 478.44,653.94 481.43,654.94 483.43,657.93 485.02,673.89 486.42,689.85 487.82,705.81" fill="none" stroke="#000000" stroke-width="1.95" stroke-linejoin="round"/>
<rect x="71.5" y="472.3" width="422.5" height="337.1" fill="none" stroke="#000" stroke-width="2.8"/>
<line x1="495.4" y1="501.9" x2="502.4" y2="501.9" stroke="#ff0000" stroke-width="1.8"/>
<text x="511.2" y="508.8" class="lg"><tspan font-style="italic">π</tspan>-Spacer</text>
<line x1="495.4" y1="526.9" x2="502.4" y2="526.9" stroke="#008000" stroke-width="1.8"/>
<text x="511.2" y="533.8" class="lg">Donor</text>
<line x1="495.4" y1="551.9" x2="502.4" y2="551.9" stroke="#0000ff" stroke-width="1.8"/>
<text x="511.2" y="558.8" class="lg">Acceptor</text>
<line x1="495.4" y1="576.9" x2="502.4" y2="576.9" stroke="#000000" stroke-width="1.8"/>
<text x="511.2" y="583.8" class="lg">Total</text>
<text x="218.9" y="904" class="ti" font-size="29.4">PCMD2</text>
<text x="228.9" y="861" class="xl">Energy (<tspan font-style="italic">eV</tspan>)</text>
<text transform="translate(19.9,644.1) rotate(-90)" text-anchor="middle" class="yl">Relative Intensity</text>
<text x="693" y="814.8" text-anchor="end" class="t">0</text>
<text x="693" y="762.62" text-anchor="end" class="t">2</text>
<text x="693" y="710.44" text-anchor="end" class="t">4</text>
<text x="693" y="658.26" text-anchor="end" class="t">6</text>
<text x="693" y="606.08" text-anchor="end" class="t">8</text>
<text x="693" y="553.9" text-anchor="end" class="t">10</text>
<text x="693" y="501.72" text-anchor="end" class="t">12</text>
<text x="720.53" y="838.9" text-anchor="middle" class="t">-15</text>
<text x="813.25" y="838.9" text-anchor="middle" class="t">-10</text>
<text x="905.98" y="838.9" text-anchor="middle" class="t">-5</text>
<text x="998.7" y="838.9" text-anchor="middle" class="t">0</text>
<text x="1091.42" y="838.9" text-anchor="middle" class="t">5</text>
<path d="M695.3 807.4H702.3M698.8 794.36H702.3M698.8 781.31H702.3M698.8 768.26H702.3M695.3 755.22H702.3M698.8 742.17H702.3M698.8 729.13H702.3M698.8 716.09H702.3M695.3 703.04H702.3M698.8 690H702.3M698.8 676.95H702.3M698.8 663.9H702.3M695.3 650.86H702.3M698.8 637.81H702.3M698.8 624.77H702.3M698.8 611.72H702.3M695.3 598.68H702.3M698.8 585.63H702.3M698.8 572.59H702.3M698.8 559.54H702.3M695.3 546.5H702.3M698.8 533.45H702.3M698.8 520.41H702.3M698.8 507.36H702.3M695.3 494.32H702.3M720.53 814.3V821.3M739.07 814.3V817.8M757.62 814.3V817.8M776.16 814.3V817.8M794.71 814.3V817.8M813.25 814.3V821.3M831.8 814.3V817.8M850.34 814.3V817.8M868.88 814.3V817.8M887.43 814.3V817.8M905.98 814.3V821.3M924.52 814.3V817.8M943.07 814.3V817.8M961.61 814.3V817.8M980.16 814.3V817.8M998.7 814.3V821.3M1017.25 814.3V817.8M1035.79 814.3V817.8M1054.34 814.3V817.8M1072.88 814.3V817.8M1091.42 814.3V821.3M1109.97 814.3V817.8" stroke="#000" stroke-width="1.25" fill="none"/>
<polyline points="709.98,801.58 711.98,795.6 713.97,789.61 715.97,784.63 717.96,783.63 719.96,785.62 721.95,787.62 723.95,786.62 725.94,779.64 727.94,773.65 729.93,769.66 731.93,768.67 733.92,770.66 735.92,775.65 737.91,781.63 739.91,785.62 741.9,783.63 743.9,780.64 745.89,779.64 748.49,779.64 750.88,776.65 752.88,771.66 754.87,765.67 756.87,757.69 758.86,749.71 760.86,746.72 762.85,739.74 764.85,727.77 766.84,715.79 768.84,707.81 770.83,703.82 772.83,706.82 774.82,717.79 776.82,735.75 778.81,753.7 780.81,769.66 782.8,779.64 784.8,785.62 786.79,787.22 789.19,785.62 791.78,782.63 794.78,778.64 796.77,773.65 798.77,765.67 800.76,751.71 802.76,737.74 804.75,725.77 806.35,717.79 807.74,721.78 809.74,737.74 811.73,753.7 813.13,756.69 814.73,751.71 816.72,743.73 818.32,740.73 819.91,745.72 821.71,759.69 823.7,775.65 825.7,789.61 827.69,797.59 830.69,803.58 833.08,805.97 835.08,803.58 837.07,795.6 839.07,785.62 841.06,777.64 843.66,774.65 846.65,774.65 849.64,774.05 852.23,770.66 854.63,765.67 856.22,762.68 858.22,765.67 860.21,773.65 862.21,783.63 864.6,793.6 867,801.58 869.59,804.58 871.59,801.58 873.58,793.6 875.58,783.63 877.57,775.65 879.57,772.66 881.56,775.65 883.56,780.64 885.55,785.62 887.55,789.61 890.54,795.6 893.53,800.59 896.53,803.58 899.52,805.57 902.51,807.17 904.95,807.17 950.83,807.17 954.82,805.57 958.81,803.98 962.8,802.98 966.79,802.58 970.79,800.59 972.78,793.6 974.78,779.64 976.77,773.65 978.77,771.66 980.76,770.66 982.76,772.66 984.75,777.64 986.75,782.63 988.74,784.63 991.73,784.63 993.73,781.63 995.72,778.64 997.72,780.64 999.71,785.62 1002.71,787.62 1004.7,785.62 1006.7,779.64 1008.69,771.66 1010.69,763.68 1012.68,759.69 1014.68,757.69 1016.67,755.7 1018.67,751.71 1020.66,747.72 1022.66,743.33 1024.65,744.72 1026.65,749.71 1028.64,755.7 1031.64,758.69 1034.63,760.68 1037.62,759.69 1039.62,756.69 1041.61,751.71 1043.61,748.71 1045.6,752.7 1047.6,759.69 1049.59,765.67 1051.59,763.68 1053.58,755.7 1055.58,747.72 1057.57,743.33 1059.57,749.71 1061.56,759.69 1063.56,764.68 1065.55,764.68 1067.55,759.69 1069.54,754.7 1071.54,753.7 1073.53,757.69 1075.53,763.68 1077.52,767.67 1080.52,768.67 1083.51,764.68 1085.5,764.68 1087.5,767.67 1089.49,771.66 1092.49,777.64 1095.48,782.63 1098.47,784.03 1101.46,783.63 1103.46,779.64 1105.46,771.66 1107.45,761.68 1109.45,751.71 1112.04,744.72 1114.03,747.72 1116.03,761.68 1118.02,777.64 1120.02,789.61" fill="none" stroke="#008000" stroke-width="1.95" stroke-linejoin="round"/>
<polyline points="709.98,791.61 711.98,787.62 713.97,783.63 715.97,779.64 717.36,778.64 718.96,781.63 720.96,786.62 722.95,787.62 724.95,785.62 726.94,777.64 728.94,767.67 730.93,758.69 732.93,754.7 734.92,755.7 736.92,759.69 738.91,763.68 740.91,766.67 742.9,767.27 744.9,765.67 746.89,761.68 749.29,756.69 751.88,751.71 754.47,747.72 756.87,743.73 758.86,731.76 760.86,720.78 762.45,717.79 763.85,721.78 765.85,733.75 767.84,745.72 769.84,754.7 771.83,760.68 773.83,759.69 775.82,755.7 777.82,753.7 779.81,755.7 781.81,757.69 783.8,757.69 785.8,754.7 787.79,749.71 790.79,739.74 793.78,732.75 795.77,729.76 797.77,728.76 800.76,729.76 803.75,729.76 805.75,728.76 807.74,730.76 809.74,737.74 811.73,747.72 813.73,757.69 815.72,765.67 817.72,771.66 819.71,775.65 821.71,779.64 823.7,781.63 825.7,782.03 827.69,780.64 829.69,778.64 831.68,780.64 833.68,783.63 835.68,786.62 838.67,790.61 841.66,794.6 844.65,798.59 846.65,797.59 848.64,793.6 850.64,785.62 852.63,777.64 854.63,771.66 857.02,767.67 859.62,769.66 862.61,772.66 865.6,775.65 868.59,779.64 870.59,783.63 872.58,789.61 874.58,797.59 876.57,801.58 879.57,803.18 883.56,803.98 888.55,805.18 894.53,805.97 900.52,806.77 902.51,807.17 904.95,807.17 925.89,807.17 928.89,802.58 931.88,795.6 934.47,791.61 936.87,795.6 939.26,799.59 941.86,802.58 943.85,799.59 945.85,793.6 947.84,788.62 950.83,784.63 952.83,787.62 954.82,792.61 957.82,795.6 960.81,795.6 963.8,795.2 966.79,796.6 969.79,799.59 972.78,801.19 976.77,801.19 980.76,801.19 983.15,799.59 985.15,791.61 987.14,779.64 989.14,767.67 991.14,757.69 993.13,754.1 995.13,757.69 997.12,767.67 999.12,777.64 1001.11,785.62 1003.7,791.61 1006.7,795.6 1008.69,795.2 1010.69,789.61 1012.68,779.64 1014.68,767.67 1016.67,757.69 1018.67,751.71 1020.66,746.72 1022.26,745.72 1024.25,749.71 1026.25,757.69 1028.24,765.67 1030.24,773.65 1032.23,781.63 1034.23,782.63 1036.22,779.64 1038.22,771.66 1040.61,763.68 1042.61,757.69 1044.6,752.7 1046.6,755.7 1048.59,760.68 1050.59,763.68 1052.98,763.28 1054.98,762.68 1056.97,765.67 1059.57,770.66 1062.56,775.65 1064.95,779.24 1068.55,779.64 1072.54,780.04 1075.53,780.64 1077.52,775.65 1079.52,767.67 1081.51,759.69 1083.51,752.7 1086.1,748.71 1088.5,749.71 1090.89,752.7 1093.48,755.7 1095.48,759.69 1097.47,767.67 1099.47,775.65 1101.46,781.63 1103.46,783.23 1106.05,780.64 1108.45,779.24 1110.84,781.63 1113.44,785.62 1115.43,789.61 1117.43,793.6 1120.02,797.59" fill="none" stroke="#0000ff" stroke-width="1.95" stroke-linejoin="round"/>
<polyline points="709.98,771.66 710.98,765.67 712.98,762.68 714.97,762.68 716.97,764.68 718.96,764.68 720.96,763.68 722.95,759.69 725.94,751.71 727.94,749.71 729.93,747.72 732.93,747.72 734.92,745.72 736.92,741.73 739.91,736.74 742.9,734.75 745.3,732.75 747.89,726.77 750.88,720.78 752.88,719.79 754.87,722.78 756.87,723.78 758.86,711.8 760.86,693.85 762.85,683.87 764.85,685.87 766.84,691.85 769.84,698.84 771.83,695.84 773.83,690.86 775.22,690.86 776.82,695.84 778.81,707.81 780.81,717.79 782.8,721.78 784.8,715.79 786.79,701.83 788.79,685.87 790.79,673.9 793.18,666.91 795.17,669.91 797.17,675.89 799.76,685.87 802.76,695.84 805.15,700.83 807.14,695.84 809.74,685.87 812.33,675.89 814.73,665.92 817.12,656.94 819.12,661.93 821.11,679.88 823.11,705.82 825.1,729.76 827.1,753.7 829.09,771.66 831.09,781.63 833.08,782.63 835.08,771.66 837.07,747.72 839.07,723.78 840.66,711.8 841.66,708.81 843.66,713.8 845.65,727.77 847.65,745.72 849.64,763.68 851.64,777.64 853.63,784.63 856.22,785.62 858.62,784.63 860.61,780.64 862.61,775.65 864.6,769.66 866.6,761.68 868.99,756.69 871.59,754.7 873.58,757.69 875.58,764.68 877.57,771.66 879.57,779.64 881.56,786.62 883.56,791.61 885.55,794.6 887.55,794.6 889.54,792.61 891.54,789.61 893.53,788.62 895.53,790.61 897.52,795.6 899.52,801.58 901.51,805.57 904.51,807.17 904.95,807.17 925.89,807.17 928.89,804.58 931.88,801.58 934.47,798.59 936.47,800.59 938.86,804.58 941.86,806.57 944.85,806.57 947.84,804.58 950.83,802.58 953.23,797.59 955.82,792.61 958.81,790.61 961.21,790.61 963.8,792.61 966.79,793.6 969.79,793.21 972.38,789.61 974.38,779.64 976.37,773.65 978.37,774.65 980.36,778.64 982.36,783.63 984.75,788.62 987.74,790.61 990.74,791.61 992.73,789.61 994.33,781.63 995.72,767.67 996.72,747.72 997.92,723.78 999.51,703.82 1001.11,689.86 1002.71,684.27 1004.7,687.86 1006.7,703.82 1008.69,721.78 1010.69,735.75 1012.28,740.73 1014.28,733.75 1016.27,717.79 1018.27,699.83 1019.86,692.85 1021.66,695.84 1023.66,705.82 1025.65,713.8 1027.65,715.79 1029.64,714.8 1031.64,707.81 1033.63,697.84 1035.63,681.88 1037.62,665.92 1039.62,657.94 1041.21,654.94 1043.21,659.93 1045.2,667.91 1047.6,672.9 1050.19,670.9 1052.58,663.92 1054.98,657.94 1057.57,652.95 1059.97,650.95 1061.96,653.95 1063.96,661.93 1065.95,670.9 1067.95,674.89 1070.94,675.89 1073.53,679.88 1075.53,687.86 1077.52,695.84 1079.52,700.83 1081.51,695.84 1083.51,690.86 1085.5,688.86 1087.5,693.85 1089.49,705.82 1091.49,717.79 1092.89,718.79 1094.88,711.8 1096.88,699.83 1098.87,689.86 1100.87,684.27 1102.86,689.86 1104.86,703.82 1106.85,717.79 1108.85,729.76 1110.84,740.73 1112.84,742.73 1114.83,739.74 1116.83,739.74 1118.82,743.73 1120.02,751.71" fill="none" stroke="#ff0000" stroke-width="1.95" stroke-linejoin="round"/>
<polyline points="709.98,747.72 710.98,735.75 712.98,721.78 714.97,713.8 716.97,709.81 718.96,711.8 720.96,719.79 722.35,722.78 723.95,711.8 725.94,693.85 727.94,675.89 729.93,661.93 731.93,657.94 733.92,661.93 735.92,666.91 738.51,671.9 740.91,671.9 742.9,668.91 744.9,663.92 746.89,655.94 748.89,643.97 750.88,635.99 753.88,624.61 755.87,616.63 756.87,604.66 757.87,584.71 758.86,558.77 760.46,540.81 761.86,530.84 763.45,525.85 765.25,530.84 766.84,538.82 768.84,544.8 771.83,544.8 773.83,545.8 775.22,550.79 776.82,560.77 777.82,584.71 779.21,604.66 780.81,626.6 782.8,641.98 783.8,646.36 785.2,639.98 786.79,616.63 788.39,596.68 789.99,580.72 791.38,570.74 792.78,564.76 794.38,560.77 796.37,562.36 798.37,560.77 800.36,555.78 801.76,548.79 803.75,538.82 805.75,531.84 806.75,530.44 808.34,534.83 809.74,544.8 811.14,556.78 812.33,562.76 813.73,564.76 815.13,558.77 816.32,552.79 817.72,550.79 819.12,558.77 820.31,576.73 821.71,600.67 822.71,620.62 823.7,640.57 823.7,643.97 825.1,671.9 826.7,699.83 828.69,723.78 830.69,743.73 832.28,752.7 833.68,749.71 835.08,737.74 836.67,717.79 838.67,695.84 840.66,675.89 842.26,668.91 843.66,675.89 845.05,689.86 846.65,703.82 848.64,713.8 850.24,716.79 852.23,711.8 854.23,705.82 856.22,701.83 858.22,705.82 860.61,713.8 862.61,721.78 864.6,725.77 866.6,727.77 869.59,727.77 872.58,729.76 875.58,730.76 877.57,732.75 879.57,737.74 881.56,745.72 883.56,755.7 885.55,765.67 887.55,773.65 889.54,777.64 892.54,779.64 894.53,783.63 896.53,791.61 898.52,799.59 900.52,804.58 902.51,807.17 902.95,807.17 925.89,807.17 928.89,801.58 931.88,789.61 933.88,782.63 935.87,785.62 937.87,793.6 939.86,798.59 941.86,801.58 943.85,797.59 945.85,789.61 947.84,783.63 950.83,779.64 953.83,777.64 956.82,775.65 959.81,774.65 962.8,774.65 965.8,775.65 968.79,778.64 970.79,777.64 972.78,763.68 974.78,745.72 976.77,735.75 978.37,732.75 980.36,735.75 982.76,738.74 984.75,740.73 986.75,737.74 989.14,733.75 990.74,723.78 992.33,711.8 993.73,697.84 995.13,683.87 997.12,669.91 999.12,655.94 1001.11,647.96 1002.71,644.97 1004.7,649.96 1006.7,663.92 1008.69,677.89 1010.29,684.87 1011.68,677.89 1013.08,661.93 1015.08,624.61 1016.27,604.66 1017.67,588.7 1019.27,576.73 1021.06,572.74 1022.66,576.73 1024.25,588.7 1025.85,604.66 1027.65,618.62 1029.64,627.6 1031.64,629.6 1033.63,622.61 1035.63,608.65 1037.62,588.7 1039.62,568.75 1041.61,552.79 1043.21,547.8 1045,552.79 1046.6,562.76 1048.59,574.73 1050.19,582.71 1052.19,578.72 1053.78,564.76 1055.58,550.79 1057.57,544.8 1059.57,548.79 1061.56,564.76 1063.56,580.72 1064.95,592.69 1066.95,597.68 1068.94,598.67 1071.54,593.68 1073.53,600.67 1075.53,612.64 1077.52,622.61 1078.52,624.61 1080.52,616.63 1082.51,604.66 1084.51,590.69 1086.1,585.7 1088.1,592.69 1090.09,608.65 1092.09,624.61 1093.48,634.99 1096.08,634 1098.87,633 1101.46,634.99 1104.46,640.98 1107.45,646.96 1110.44,651.95 1112.44,655.94 1114.03,661.93 1115.43,669.91 1116.83,681.88 1118.42,699.83 1120.02,723.78" fill="none" stroke="#000000" stroke-width="1.95" stroke-linejoin="round"/>
<rect x="703.7" y="471.5" width="421.6" height="341.4" fill="none" stroke="#000" stroke-width="2.8"/>
<line x1="1127.3" y1="500.8" x2="1134.3" y2="500.8" stroke="#ff0000" stroke-width="1.8"/>
<text x="1143.2" y="507.7" class="lg"><tspan font-style="italic">π</tspan>-Spacer</text>
<line x1="1127.3" y1="526.1" x2="1134.3" y2="526.1" stroke="#008000" stroke-width="1.8"/>
<text x="1143.2" y="533" class="lg">Donor</text>
<line x1="1127.3" y1="551.4" x2="1134.3" y2="551.4" stroke="#0000ff" stroke-width="1.8"/>
<text x="1143.2" y="558.3" class="lg">Acceptor</text>
<line x1="1127.3" y1="576.7" x2="1134.3" y2="576.7" stroke="#000000" stroke-width="1.8"/>
<text x="1143.2" y="583.6" class="lg">Total</text>
<text x="851.1" y="904" class="ti" font-size="29.4">PCMD3</text>
<text x="860.2" y="862.6" class="xl">Energy (<tspan font-style="italic">eV</tspan>)</text>
<text transform="translate(650.4,645) rotate(-90)" text-anchor="middle" class="yl">Relative Intensity</text>
<text x="58" y="1290.8" text-anchor="end" class="t">0</text>
<text x="58" y="1239.95" text-anchor="end" class="t">2</text>
<text x="58" y="1189.1" text-anchor="end" class="t">4</text>
<text x="58" y="1138.25" text-anchor="end" class="t">6</text>
<text x="58" y="1087.4" text-anchor="end" class="t">8</text>
<text x="58" y="1036.55" text-anchor="end" class="t">10</text>
<text x="58" y="985.7" text-anchor="end" class="t">12</text>
<text x="87.3" y="1314.9" text-anchor="middle" class="t">-15</text>
<text x="180.3" y="1314.9" text-anchor="middle" class="t">-10</text>
<text x="273.3" y="1314.9" text-anchor="middle" class="t">-5</text>
<text x="366.3" y="1314.9" text-anchor="middle" class="t">0</text>
<text x="459.3" y="1314.9" text-anchor="middle" class="t">5</text>
<path d="M60.3 1283.4H67.3M63.8 1270.69H67.3M63.8 1257.98H67.3M63.8 1245.26H67.3M60.3 1232.55H67.3M63.8 1219.84H67.3M63.8 1207.12H67.3M63.8 1194.41H67.3M60.3 1181.7H67.3M63.8 1168.99H67.3M63.8 1156.28H67.3M63.8 1143.56H67.3M60.3 1130.85H67.3M63.8 1118.14H67.3M63.8 1105.43H67.3M63.8 1092.71H67.3M60.3 1080H67.3M63.8 1067.29H67.3M63.8 1054.58H67.3M63.8 1041.86H67.3M60.3 1029.15H67.3M63.8 1016.44H67.3M63.8 1003.73H67.3M63.8 991.01H67.3M60.3 978.3H67.3M87.3 1290.3V1297.3M105.9 1290.3V1293.8M124.5 1290.3V1293.8M143.1 1290.3V1293.8M161.7 1290.3V1293.8M180.3 1290.3V1297.3M198.9 1290.3V1293.8M217.5 1290.3V1293.8M236.1 1290.3V1293.8M254.7 1290.3V1293.8M273.3 1290.3V1297.3M291.9 1290.3V1293.8M310.5 1290.3V1293.8M329.1 1290.3V1293.8M347.7 1290.3V1293.8M366.3 1290.3V1297.3M384.9 1290.3V1293.8M403.5 1290.3V1293.8M422.1 1290.3V1293.8M440.7 1290.3V1293.8M459.3 1290.3V1297.3M477.9 1290.3V1293.8" stroke="#000" stroke-width="1.25" fill="none"/>
<polyline points="74.58,1276.59 75.98,1272.6 77.97,1267.61 79.97,1262.63 81.36,1259.63 82.96,1261.63 84.96,1264.62 86.95,1264.62 88.95,1260.63 90.94,1254.65 92.94,1249.66 94.93,1246.67 96.53,1245.67 98.52,1248.66 100.52,1253.65 102.51,1258.64 103.91,1263.62 105.9,1261.63 107.9,1258.64 109.89,1257.64 112.49,1255.64 114.88,1254.65 116.88,1252.65 118.87,1247.66 120.87,1239.68 122.86,1233.7 124.86,1226.71 126.85,1220.73 128.85,1215.74 130.44,1207.76 131.84,1199.78 133.84,1189.8 135.83,1183.82 137.23,1181.82 138.82,1185.81 140.82,1197.79 142.81,1213.75 144.81,1229.71 146.8,1245.67 148.8,1255.64 150.79,1261.63 152.79,1263.62 154.79,1262.63 156.78,1260.63 158.78,1258.64 160.77,1255.64 162.77,1251.65 164.76,1245.67 166.76,1233.7 168.75,1217.74 170.35,1203.77 171.74,1195.79 172.74,1194.79 174.34,1199.78 175.73,1211.75 177.33,1223.72 178.73,1231.7 180.32,1234.69 181.72,1231.7 183.12,1225.72 184.71,1219.73 185.71,1217.74 187.11,1221.73 188.7,1231.7 190.7,1243.67 192.69,1255.64 194.69,1269.61 196.68,1277.59 198.68,1281.18 200.27,1281.98 202.27,1279.58 204.26,1273.6 206.26,1265.62 207.66,1257.64 209.65,1252.65 212.24,1251.65 214.64,1252.05 217.03,1251.25 219.63,1246.67 222.22,1241.68 223.62,1240.68 225.61,1243.67 227.61,1249.66 229.6,1257.64 231.6,1267.61 233.59,1275.59 235.59,1279.58 237.58,1277.59 239.58,1269.61 241.57,1261.63 243.57,1253.65 245.56,1249.66 247.56,1248.66 249.55,1253.65 251.55,1259.63 253.54,1264.62 255.54,1269.61 258.53,1274.6 261.52,1278.59 264.52,1281.18 268.51,1283.18 271.95,1283.18 317.83,1283.18 321.82,1281.98 325.81,1280.58 329.8,1279.58 333.79,1279.19 337.79,1277.59 339.78,1271.6 341.78,1261.63 343.77,1253.65 345.77,1249.66 347.76,1247.66 349.76,1247.26 351.75,1249.66 353.75,1255.64 355.74,1259.63 358.73,1260.63 360.73,1258.64 362.72,1255.64 364.72,1254.65 366.71,1257.64 368.71,1262.63 370.7,1263.62 372.7,1261.63 374.69,1255.64 376.69,1249.66 378.68,1243.67 380.68,1238.68 382.68,1235.69 384.67,1233.7 386.67,1231.7 388.66,1227.71 390.66,1221.73 392.05,1220.73 393.65,1223.72 395.64,1229.71 397.64,1233.7 399.63,1235.69 402.63,1236.69 405.62,1237.69 407.61,1233.7 409.61,1229.71 412,1226.71 414,1229.71 415.99,1235.69 417.99,1241.68 419.98,1243.67 421.98,1237.69 423.97,1229.71 425.97,1221.73 427.57,1221.33 429.16,1225.72 431.16,1235.69 433.15,1243.67 435.15,1245.67 437.14,1241.68 439.14,1235.69 441.13,1231.7 443.13,1234.69 445.12,1239.68 447.52,1243.67 450.51,1243.27 453.5,1241.68 456.49,1242.68 459.49,1247.66 462.48,1253.65 465.47,1258.64 468.46,1260.03 471.06,1258.64 473.05,1251.65 475.05,1239.68 477.04,1229.71 479.44,1223.72 481.43,1222.72 483.43,1225.72 485.02,1237.69 486.42,1249.66 487.82,1261.63" fill="none" stroke="#008000" stroke-width="1.95" stroke-linejoin="round"/>
<polyline points="74.58,1264.62 75.98,1261.63 77.97,1258.64 79.97,1256.64 81.96,1255.64 83.96,1255.24 85.95,1254.65 87.95,1253.65 89.94,1252.05 91.94,1251.65 93.93,1253.65 95.93,1256.64 97.92,1259.23 99.92,1260.03 101.91,1260.03 103.91,1259.63 105.9,1258.04 107.9,1255.64 109.89,1252.65 111.89,1248.66 113.89,1243.67 115.88,1237.69 117.88,1233.7 119.87,1230.7 121.87,1225.72 123.86,1215.74 125.86,1201.78 127.85,1193.79 129.25,1191.8 130.84,1195.79 132.84,1205.77 134.83,1217.74 136.83,1227.71 138.82,1233.7 140.82,1235.69 142.81,1235.69 145.21,1236.69 146.8,1238.68 148.8,1240.68 150.79,1237.69 152.79,1231.7 154.79,1221.73 156.78,1211.75 158.78,1203.77 160.77,1200.78 162.77,1200.78 164.76,1202.77 166.76,1201.78 168.75,1198.78 170.75,1196.79 172.74,1195.79 174.74,1198.78 176.73,1203.77 178.73,1209.76 180.72,1213.75 182.72,1217.74 184.71,1223.72 186.71,1233.7 188.7,1243.67 190.7,1247.66 192.69,1241.68 194.69,1231.7 196.68,1228.71 198.68,1231.7 200.67,1239.68 202.67,1249.66 204.66,1259.63 206.66,1265.62 208.65,1269.61 210.65,1270.61 212.64,1268.61 214.64,1263.62 216.63,1257.64 218.63,1251.65 220.62,1248.66 222.62,1247.66 224.61,1247.26 226.61,1247.66 229,1249.66 231.6,1252.65 234.19,1255.64 236.19,1258.64 238.18,1263.62 240.18,1269.61 242.17,1275.59 244.57,1277.99 247.56,1279.58 250.55,1280.58 254.54,1281.18 258.53,1281.98 264.52,1282.78 269.5,1283.18 269.95,1283.18 292.89,1283.18 295.89,1277.59 298.88,1272.6 301.87,1268.61 303.87,1270.61 305.86,1274.6 308.26,1277.59 310.25,1276.59 312.25,1271.6 314.24,1265.62 316.24,1262.63 318.23,1260.63 320.23,1263.62 322.22,1267.61 324.82,1269.61 327.81,1270.61 330.8,1271.6 333.4,1273.6 335.79,1275.99 338.78,1277.59 341.78,1277.59 345.77,1277.19 349.76,1275.59 351.75,1269.61 353.35,1257.64 355.34,1241.68 357.34,1225.72 359.33,1215.74 360.73,1213.75 362.72,1218.73 364.72,1229.71 366.71,1243.67 368.71,1255.64 370.7,1263.62 372.7,1268.61 375.29,1271.6 377.69,1269.61 379.68,1261.63 381.68,1251.65 383.67,1241.68 385.67,1235.69 387.66,1231.7 389.66,1227.71 391.25,1228.71 393.25,1231.7 395.24,1234.69 397.24,1235.69 399.23,1233.7 401.63,1229.71 403.62,1226.71 405.62,1229.71 407.61,1237.69 409.61,1249.66 411.6,1259.63 413.2,1261.63 415.2,1253.65 417.19,1243.67 419.19,1235.69 421.18,1230.7 423.18,1233.7 425.17,1243.67 427.17,1253.65 429.16,1260.63 431.56,1262.03 434.55,1260.63 437.54,1258.64 440.53,1255.64 443.53,1249.66 446.52,1243.67 449.51,1236.69 452.5,1227.71 453.9,1226.71 455.9,1233.7 457.89,1241.68 459.89,1246.67 462.48,1247.66 465.47,1246.67 468.46,1246.67 471.06,1247.66 473.45,1251.65 476.45,1255.64 478.44,1255.24 481.03,1250.66 483.03,1245.67 485.02,1242.68 486.42,1245.67 487.82,1249.66" fill="none" stroke="#0000ff" stroke-width="1.95" stroke-linejoin="round"/>
<polyline points="74.58,1247.66 75.98,1242.68 77.97,1240.68 79.97,1241.68 81.96,1242.68 84.96,1241.68 86.95,1239.68 88.95,1234.69 90.94,1229.71 92.94,1225.72 95.93,1224.72 98.92,1223.72 100.92,1221.73 102.91,1218.73 105.9,1215.74 108.9,1211.75 110.89,1205.77 112.89,1199.78 114.88,1195.79 116.48,1194.79 118.47,1199.78 120.47,1205.77 122.46,1204.77 124.46,1189.8 126.45,1173.84 127.85,1162.87 129.25,1158.88 130.84,1162.87 132.84,1171.85 134.83,1177.83 136.83,1175.84 138.82,1170.85 140.82,1167.86 142.81,1171.85 144.81,1183.82 146.8,1195.79 148.4,1200.78 150.4,1191.8 152.39,1177.83 154.39,1163.87 156.78,1151.9 158.78,1145.91 160.77,1148.9 162.77,1152.89 164.76,1159.88 166.76,1169.85 168.75,1176.84 170.75,1179.83 172.74,1175.84 174.74,1167.86 176.73,1159.88 178.73,1151.9 181.72,1143.92 184.31,1137.93 185.71,1136.93 187.7,1143.92 189.7,1163.87 191.69,1189.8 193.69,1215.74 195.68,1239.68 197.68,1255.64 199.08,1259.23 201.07,1251.65 203.07,1229.71 205.06,1207.76 206.66,1191.8 208.25,1187.81 210.25,1193.79 212.24,1209.76 214.24,1229.71 216.23,1247.66 218.23,1259.63 220.22,1262.63 222.62,1263.22 225.61,1262.63 227.61,1257.64 229.6,1251.65 231.6,1245.67 233.59,1239.68 235.59,1234.69 237.58,1232.3 239.58,1234.69 241.57,1239.68 243.57,1245.67 245.56,1252.65 247.56,1259.63 249.55,1265.62 251.55,1269.61 254.54,1271.21 256.54,1268.61 258.53,1265.62 260.53,1264.62 262.52,1267.61 264.52,1271.6 266.51,1277.59 268.51,1281.58 270.5,1283.18 271.95,1283.18 292.89,1283.18 295.89,1280.58 298.88,1277.59 301.47,1275.2 303.87,1277.59 306.86,1280.58 309.85,1281.98 312.85,1281.98 315.84,1281.18 318.83,1278.59 321.43,1274.6 323.82,1270.61 326.81,1267.61 328.81,1267.21 331.4,1268.61 333.79,1270.61 336.79,1270.61 339.38,1267.61 341.38,1259.63 343.37,1253.65 345.37,1250.66 347.36,1253.65 349.36,1259.63 351.75,1265.62 354.74,1267.61 357.74,1267.61 360.13,1265.62 362.13,1257.64 363.72,1245.67 365.32,1225.72 366.71,1205.77 368.11,1185.81 369.31,1169.85 370.7,1161.47 372.7,1167.86 374.69,1185.81 376.69,1201.78 378.68,1215.74 380.08,1219.33 381.68,1213.75 383.67,1199.78 385.67,1183.82 387.66,1172.85 389.66,1175.84 391.65,1183.82 393.65,1190.8 395.64,1193.79 397.64,1191.8 400.03,1183.82 402.03,1171.85 404.02,1157.88 406.02,1145.91 408.01,1136.93 409.61,1134.94 411.6,1137.93 413.6,1145.91 415.99,1151.9 418.59,1149.9 421.18,1143.92 423.57,1137.93 425.97,1131.95 427.96,1130.95 429.96,1133.94 431.95,1141.92 433.95,1149.9 436.54,1153.89 439.54,1154.89 441.93,1158.88 443.93,1165.86 445.92,1172.85 447.92,1177.83 449.91,1173.84 451.91,1168.86 453.9,1166.86 455.9,1171.85 457.89,1183.82 459.89,1193.79 461.48,1197.39 463.48,1189.8 465.47,1177.83 467.47,1167.86 469.86,1160.88 471.86,1167.86 473.85,1181.82 475.85,1197.79 477.84,1211.75 479.44,1219.73 481.43,1220.73 483.43,1218.73 485.02,1216.74 486.62,1219.73 487.82,1223.72" fill="none" stroke="#ff0000" stroke-width="1.95" stroke-linejoin="round"/>
<polyline points="74.58,1219.73 75.98,1209.76 77.97,1200.78 79.97,1194.79 81.96,1190.8 83.96,1189.8 85.95,1191.8 87.95,1189.8 89.94,1179.83 91.94,1167.86 93.93,1159.88 94.93,1158.88 96.93,1161.87 98.92,1167.86 100.92,1170.85 103.31,1171.85 105.31,1167.86 106.9,1161.87 108.9,1153.89 110.89,1143.92 112.89,1133.94 114.88,1123.97 117.88,1115.59 120.47,1109.61 121.87,1101.63 122.86,1085.67 123.86,1069.71 124.86,1045.77 126.06,1025.81 127.85,1007.86 129.25,1000.88 130.84,1001.87 132.84,1007.86 134.83,1013.84 136.83,1018.83 138.82,1021.82 140.42,1025.81 141.82,1033.79 142.81,1045.77 143.81,1065.72 144.81,1085.67 146.41,1107.61 147.8,1121.97 149.2,1130.95 150.79,1123.97 152.39,1105.62 153.79,1085.67 155.18,1067.71 156.78,1051.75 158.38,1041.78 160.37,1035.79 161.77,1034.79 163.16,1036.79 165.16,1038.78 166.76,1033.79 168.35,1025.81 169.75,1013.84 171.14,1004.87 172.34,1002.87 173.74,1006.86 175.14,1013.84 176.73,1020.83 178.33,1024.82 179.72,1024.82 181.12,1019.83 182.72,1011.85 184.31,1008.86 185.71,1013.84 186.71,1029.8 187.7,1053.75 188.7,1079.68 189.7,1105.62 190.3,1133.94 191.1,1149.9 192.29,1165.86 193.69,1181.82 195.68,1193.79 197.68,1200.78 199.68,1201.78 201.67,1193.79 203.67,1177.83 205.66,1159.88 207.26,1147.91 208.65,1144.91 210.25,1151.9 211.65,1163.87 213.64,1177.83 215.64,1189.8 217.63,1193.79 219.63,1189.8 221.62,1185.81 223.62,1182.82 225.61,1185.81 227.61,1191.8 229.6,1197.79 231.6,1201.78 234.59,1202.77 237.58,1204.77 240.57,1206.76 243.57,1207.76 246.16,1209.76 247.56,1215.74 248.95,1223.72 250.55,1233.7 252.15,1243.67 253.54,1249.66 255.54,1253.65 258.53,1255.64 261.52,1258.64 263.52,1263.62 265.51,1271.6 267.51,1279.58 269.5,1283.18 269.95,1283.18 292.89,1283.18 295.89,1277.59 298.28,1267.61 300.88,1260.63 302.27,1259.63 304.27,1263.62 306.26,1271.6 308.26,1275.59 310.25,1275.99 312.25,1271.6 314.24,1263.62 316.24,1258.64 318.83,1255.64 321.43,1254.65 323.82,1252.65 326.81,1250.66 329.41,1249.66 331.8,1251.65 334.19,1255.64 336.19,1258.64 338.18,1255.64 339.78,1245.67 341.38,1233.7 342.77,1221.73 344.17,1213.75 345.77,1210.75 347.76,1209.76 349.76,1209.76 351.75,1205.77 353.35,1199.78 354.74,1191.8 356.74,1183.82 358.73,1175.84 360.73,1167.86 362.72,1161.87 364.72,1155.89 366.71,1145.91 368.71,1133.94 370.7,1125.96 372.7,1131.95 374.69,1143.92 376.69,1157.88 378.09,1163.87 379.68,1155.89 381.28,1137.93 384.07,1101.63 385.67,1081.68 387.66,1067.71 389.66,1059.73 391.65,1065.72 393.65,1079.68 395.64,1089.66 397.64,1093.25 399.63,1087.66 401.63,1075.69 403.62,1061.73 405.62,1051.75 407.61,1046.16 409.61,1047.76 411.6,1055.74 413.6,1065.72 415.59,1071.7 417.59,1067.71 419.58,1055.74 421.58,1041.78 423.18,1031.8 424.57,1029.8 426.57,1033.79 428.56,1047.76 430.56,1063.72 432.55,1077.69 434.55,1084.67 436.54,1081.68 438.54,1075.69 440.53,1071.7 442.53,1077.69 444.52,1087.66 446.52,1092.05 448.51,1085.67 450.51,1075.69 453.1,1064.72 455.1,1073.7 457.09,1089.66 459.09,1105.62 461.08,1121.58 461.88,1131.95 463.48,1127.96 466.47,1109.61 468.46,1101.63 470.46,1099.63 472.46,1105.62 474.45,1117.59 477.04,1133.94 479.04,1131.95 481.03,1127.96 483.03,1124.96 485.02,1127.96 486.42,1139.93 487.42,1153.89 487.82,1167.86" fill="none" stroke="#000000" stroke-width="1.95" stroke-linejoin="round"/>
<rect x="68.7" y="956.7" width="424.4" height="332.2" fill="none" stroke="#000" stroke-width="2.8"/>
<line x1="495.9" y1="983.8" x2="502.9" y2="983.8" stroke="#ff0000" stroke-width="1.8"/>
<text x="511.5" y="990.7" class="lg"><tspan font-style="italic">π</tspan>-Spacer</text>
<line x1="495.9" y1="1008.8" x2="502.9" y2="1008.8" stroke="#008000" stroke-width="1.8"/>
<text x="511.5" y="1015.7" class="lg">Donor</text>
<line x1="495.9" y1="1033.8" x2="502.9" y2="1033.8" stroke="#0000ff" stroke-width="1.8"/>
<text x="511.5" y="1040.7" class="lg">Acceptor</text>
<line x1="495.9" y1="1058.8" x2="502.9" y2="1058.8" stroke="#000000" stroke-width="1.8"/>
<text x="511.5" y="1065.7" class="lg">Total</text>
<text x="218.9" y="1384.9" class="ti" font-size="29.4">PCMD4</text>
<text x="226.7" y="1338" class="xl">Energy (<tspan font-style="italic">eV</tspan>)</text>
<text transform="translate(16.4,1126) rotate(-90)" text-anchor="middle" class="yl">Relative Intensity</text>
<text x="692.9" y="1294.4" text-anchor="end" class="t">0</text>
<text x="692.9" y="1249.94" text-anchor="end" class="t">2</text>
<text x="692.9" y="1205.48" text-anchor="end" class="t">4</text>
<text x="692.9" y="1161.02" text-anchor="end" class="t">6</text>
<text x="692.9" y="1116.56" text-anchor="end" class="t">8</text>
<text x="692.9" y="1072.1" text-anchor="end" class="t">10</text>
<text x="692.9" y="1027.64" text-anchor="end" class="t">12</text>
<text x="692.9" y="983.18" text-anchor="end" class="t">14</text>
<text x="721.4" y="1318.4" text-anchor="middle" class="t">-15</text>
<text x="815.15" y="1318.4" text-anchor="middle" class="t">-10</text>
<text x="908.9" y="1318.4" text-anchor="middle" class="t">-5</text>
<text x="1002.65" y="1318.4" text-anchor="middle" class="t">0</text>
<text x="1096.4" y="1318.4" text-anchor="middle" class="t">5</text>
<path d="M695.2 1287H702.2M698.7 1275.88H702.2M698.7 1264.77H702.2M698.7 1253.65H702.2M695.2 1242.54H702.2M698.7 1231.42H702.2M698.7 1220.31H702.2M698.7 1209.19H702.2M695.2 1198.08H702.2M698.7 1186.96H702.2M698.7 1175.85H702.2M698.7 1164.73H702.2M695.2 1153.62H702.2M698.7 1142.51H702.2M698.7 1131.39H702.2M698.7 1120.28H702.2M695.2 1109.16H702.2M698.7 1098.05H702.2M698.7 1086.93H702.2M698.7 1075.82H702.2M695.2 1064.7H702.2M698.7 1053.59H702.2M698.7 1042.47H702.2M698.7 1031.36H702.2M695.2 1020.24H702.2M698.7 1009.12H702.2M698.7 998.01H702.2M698.7 986.89H702.2M695.2 975.78H702.2M721.4 1293.8V1300.8M740.15 1293.8V1297.3M758.9 1293.8V1297.3M777.65 1293.8V1297.3M796.4 1293.8V1297.3M815.15 1293.8V1300.8M833.9 1293.8V1297.3M852.65 1293.8V1297.3M871.4 1293.8V1297.3M890.15 1293.8V1297.3M908.9 1293.8V1300.8M927.65 1293.8V1297.3M946.4 1293.8V1297.3M965.15 1293.8V1297.3M983.9 1293.8V1297.3M1002.65 1293.8V1300.8M1021.4 1293.8V1297.3M1040.15 1293.8V1297.3M1058.9 1293.8V1297.3M1077.65 1293.8V1297.3M1096.4 1293.8V1300.8M1115.15 1293.8V1297.3" stroke="#000" stroke-width="1.25" fill="none"/>
<polyline points="708.99,1282.58 710.58,1277.59 712.58,1271.61 714.57,1268.62 716.97,1266.62 718.96,1269.61 720.96,1271.61 722.95,1269.61 724.95,1263.63 726.94,1257.64 728.94,1254.65 730.93,1254.65 732.93,1256.65 734.92,1261.63 736.92,1265.62 738.91,1268.62 740.91,1268.62 742.9,1265.62 744.9,1263.63 746.89,1263.63 749.89,1262.63 752.48,1259.64 754.47,1255.65 756.47,1249.66 758.46,1243.68 760.86,1237.69 762.85,1233.7 764.85,1227.72 766.84,1217.74 768.84,1207.77 770.83,1200.78 772.43,1198.79 774.03,1201.78 775.82,1211.76 777.82,1227.72 779.81,1243.68 781.81,1257.64 783.8,1265.62 785.8,1269.61 787.79,1270.01 789.79,1269.61 791.78,1267.62 793.78,1265.62 795.77,1262.63 797.77,1259.64 799.76,1255.65 801.16,1249.66 802.76,1237.69 804.75,1223.73 806.35,1211.76 807.74,1209.76 809.14,1215.75 810.74,1227.72 812.73,1239.69 814.33,1243.68 816.32,1239.69 818.32,1233.7 819.91,1231.31 821.71,1233.7 823.7,1241.68 825.7,1253.65 827.69,1265.62 829.69,1275.6 831.68,1282.58 833.68,1285.57 835.68,1285.97 837.67,1283.58 839.67,1277.59 841.66,1269.61 843.66,1262.63 845.65,1259.24 848.24,1259.24 850.64,1258.64 853.03,1255.65 855.63,1251.66 858.22,1248.67 860.21,1250.66 862.21,1257.64 864.21,1265.62 866.6,1275.6 868.99,1282.58 871.59,1284.58 873.58,1282.58 875.58,1275.6 877.57,1267.62 879.57,1261.63 881.56,1258.64 883.56,1260.64 885.55,1265.62 887.55,1271.61 890.54,1277.59 893.53,1281.58 896.53,1283.98 900.52,1285.97 904.51,1287.17 905.94,1287.17 954.82,1287.17 958.81,1285.57 962.8,1283.98 966.79,1283.58 970.79,1282.58 973.78,1279.59 975.77,1274.6 977.77,1267.62 979.76,1259.64 981.76,1255.65 983.75,1254.65 985.75,1255.65 987.74,1258.64 989.74,1262.63 991.73,1265.22 993.73,1266.62 995.72,1267.22 997.72,1265.62 999.71,1264.63 1001.71,1266.62 1003.7,1268.62 1005.7,1269.61 1007.69,1269.61 1009.69,1267.62 1011.68,1263.63 1013.68,1257.64 1015.68,1251.66 1017.67,1246.67 1019.67,1244.68 1021.66,1243.68 1023.66,1240.68 1025.65,1235.7 1027.05,1232.7 1028.64,1234.7 1030.64,1239.69 1032.63,1244.68 1034.63,1245.67 1036.62,1246.07 1039.62,1246.07 1041.61,1246.67 1044.21,1243.68 1046.2,1239.69 1048.2,1237.69 1050.19,1241.68 1052.19,1247.67 1054.18,1252.66 1056.18,1249.66 1058.17,1243.68 1060.17,1235.7 1062.16,1231.71 1064.16,1235.7 1066.15,1243.68 1068.15,1249.66 1070.14,1251.66 1072.14,1247.67 1074.13,1243.68 1075.53,1242.68 1077.52,1244.68 1079.52,1248.67 1081.51,1251.66 1083.51,1252.66 1085.5,1250.66 1087.5,1249.66 1089.49,1248.67 1091.49,1250.66 1093.48,1254.65 1096.08,1259.64 1098.47,1263.63 1101.46,1266.02 1104.06,1266.62 1106.45,1265.62 1108.45,1261.63 1110.44,1255.65 1112.44,1249.66 1114.43,1241.68 1116.03,1236.69 1118.02,1233.7 1120.02,1237.69 1121.42,1245.67" fill="none" stroke="#008000" stroke-width="1.95" stroke-linejoin="round"/>
<polyline points="708.99,1273.6 710.58,1263.63 712.58,1251.66 714.57,1245.67 716.97,1240.68 718.56,1238.69 720.56,1243.68 722.55,1251.66 724.55,1253.65 726.54,1251.66 728.54,1247.67 730.53,1243.68 732.93,1239.69 735.32,1236.69 737.91,1236.69 740.51,1237.69 742.9,1237.69 745.3,1237.69 747.29,1235.7 749.29,1231.71 751.28,1225.72 753.88,1217.74 755.87,1211.76 757.87,1208.76 758.86,1207.77 760.86,1213.75 762.85,1223.73 764.85,1231.71 766.84,1237.69 768.84,1235.7 770.83,1227.72 772.83,1221.73 774.82,1218.74 776.82,1223.73 778.81,1229.71 780.81,1231.71 782.8,1232.7 784.8,1232.7 786.79,1230.71 788.79,1226.72 790.79,1219.74 792.78,1207.77 794.78,1193.8 796.77,1185.82 798.77,1181.83 800.76,1177.84 802.76,1174.85 805.15,1170.86 807.14,1169.86 809.14,1171.85 811.14,1175.84 812.73,1181.83 814.73,1193.8 816.72,1207.77 818.72,1217.74 820.71,1223.73 822.71,1227.72 824.7,1233.7 826.7,1243.68 828.69,1255.65 830.69,1265.62 832.68,1271.61 834.68,1275.6 836.67,1277.99 838.67,1279.19 840.66,1279.59 842.66,1278.59 844.65,1271.61 846.65,1263.63 848.64,1255.65 850.64,1247.67 852.23,1244.68 854.23,1247.67 856.22,1251.66 858.62,1257.64 861.61,1263.63 864.6,1271.61 867.6,1277.59 870.59,1282.58 873.58,1284.58 876.57,1284.58 879.57,1283.58 882.56,1283.58 885.55,1284.58 889.54,1285.57 894.53,1286.37 900.52,1287.17 904.51,1287.57 904.95,1287.17 922.9,1287.17 925.89,1284.58 928.89,1279.59 931.88,1274.6 934.47,1272.61 936.87,1274.6 939.26,1276 941.26,1276.6 943.25,1273.6 945.25,1269.61 946.84,1268.02 948.84,1269.61 950.83,1271.61 952.83,1273.6 954.82,1274.6 956.82,1274 958.81,1275.6 961.21,1277.59 963.8,1279.19 966.4,1279.19 968.79,1278.59 970.79,1276.6 972.78,1273.6 974.78,1269.61 976.37,1267.62 978.37,1270.61 980.76,1274.6 983.15,1277.2 985.15,1274.6 987.14,1269.61 989.14,1263.63 991.14,1257.64 993.13,1254.65 995.13,1257.64 997.12,1263.63 999.12,1266.62 1001.11,1265.62 1003.11,1261.63 1005.1,1259.24 1007.1,1262.63 1009.09,1265.62 1011.09,1266.62 1013.08,1261.63 1015.08,1253.65 1017.07,1243.68 1019.07,1233.7 1021.06,1229.71 1023.66,1227.72 1026.25,1223.73 1027.65,1222.73 1029.64,1225.72 1031.64,1228.71 1034.23,1229.71 1036.22,1225.72 1038.22,1219.74 1040.21,1213.75 1041.61,1212.75 1043.61,1215.75 1045.6,1221.73 1047.6,1227.72 1050.19,1231.71 1052.58,1232.7 1054.98,1229.71 1056.97,1226.72 1058.57,1225.72 1060.57,1228.71 1062.56,1234.7 1064.56,1240.68 1066.55,1245.67 1068.15,1246.67 1070.14,1243.68 1072.14,1239.69 1074.53,1235.7 1076.93,1231.71 1079.52,1225.72 1081.51,1219.74 1083.51,1213.75 1085.5,1205.77 1086.9,1201.78 1088.9,1207.77 1090.89,1219.74 1092.89,1231.71 1094.88,1239.69 1096.88,1243.68 1098.87,1242.68 1101.46,1240.68 1104.06,1239.69 1106.85,1238.09 1108.85,1238.69 1110.84,1243.68 1112.84,1249.66 1114.83,1255.65 1116.83,1259.64 1118.82,1263.63 1121.42,1268.62" fill="none" stroke="#0000ff" stroke-width="1.95" stroke-linejoin="round"/>
<polyline points="708.99,1256.65 710.58,1251.66 712.58,1248.67 714.57,1248.67 716.97,1249.66 719.96,1250.66 721.95,1249.66 723.95,1245.67 725.94,1241.68 727.94,1236.69 729.93,1235.7 732.53,1234.7 734.92,1233.7 737.32,1230.71 739.91,1227.72 742.9,1225.72 745.3,1222.73 747.29,1217.74 749.29,1212.75 750.88,1210.76 752.88,1212.75 754.87,1215.75 757.27,1216.74 759.26,1207.77 761.26,1193.8 763.25,1183.82 764.45,1181.83 766.44,1185.82 768.44,1191.8 770.43,1191.8 772.43,1188.81 774.43,1187.42 776.42,1190.81 778.81,1199.79 780.81,1209.76 783.2,1214.75 785.2,1207.77 787.19,1195.79 789.19,1183.82 791.18,1173.85 793.18,1167.86 794.78,1166.87 796.77,1169.86 798.77,1175.84 800.76,1183.82 802.76,1191.8 804.75,1197.79 806.35,1197.79 808.34,1191.8 810.74,1183.82 812.73,1173.85 814.33,1163.87 816.32,1157.49 817.72,1156.89 819.71,1163.87 821.71,1177.84 823.7,1197.79 825.7,1221.73 827.69,1243.68 829.69,1257.64 831.68,1265.62 832.68,1266.62 834.68,1257.64 836.67,1239.69 838.67,1223.73 840.66,1213.75 842.66,1209.76 844.65,1215.75 846.65,1227.72 848.64,1243.68 850.64,1257.64 852.63,1265.62 855.03,1269.61 857.62,1269.61 860.21,1267.62 862.21,1263.63 864.21,1257.64 866.2,1253.65 868.59,1249.66 870.99,1246.67 873.58,1244.68 875.58,1245.67 877.57,1249.66 879.57,1255.65 881.56,1263.63 883.56,1269.61 885.55,1274.6 887.55,1276.6 890.54,1275.6 892.93,1272.61 894.93,1270.61 896.93,1272.61 898.92,1277.59 900.92,1282.58 903.51,1285.57 906.5,1287.17 905.94,1287.17 925.89,1287.17 928.89,1284.58 931.88,1281.58 934.47,1280.59 936.87,1282.58 939.86,1284.58 942.85,1285.97 946.84,1285.97 950.83,1285.18 953.23,1282.58 955.22,1279.59 957.22,1277.2 959.81,1276.6 962.41,1275.2 964.8,1274 966.79,1274.6 969.19,1275.6 971.78,1274.6 973.78,1271.61 975.77,1266.62 977.77,1261.63 979.76,1258.64 981.76,1261.63 983.75,1266.62 985.75,1269.61 988.34,1271.21 991.14,1271.61 993.73,1270.61 995.72,1268.62 997.72,1259.64 999.12,1241.68 1000.71,1219.74 1002.31,1197.79 1003.7,1186.82 1005.1,1183.82 1006.7,1187.81 1008.69,1199.79 1010.69,1213.75 1012.68,1225.72 1014.28,1231.71 1015.68,1225.72 1017.67,1211.76 1019.67,1199.79 1021.66,1191.8 1023.06,1190.21 1025.05,1193.8 1027.05,1201.78 1029.04,1207.77 1031.04,1210.16 1033.03,1207.77 1035.03,1201.78 1037.02,1191.8 1039.02,1177.84 1041.01,1165.87 1043.01,1159.88 1044.6,1159.48 1046.6,1163.87 1048.59,1169.86 1050.99,1172.85 1052.98,1169.86 1054.98,1165.87 1056.97,1162.88 1059.57,1157.89 1062.16,1154.3 1064.16,1153.9 1066.15,1156.89 1068.15,1161.88 1070.54,1168.86 1073.53,1173.85 1076.13,1175.84 1078.52,1179.83 1080.52,1185.82 1082.51,1190.81 1084.51,1192.8 1086.5,1189.81 1088.5,1185.82 1090.09,1184.82 1092.09,1187.81 1094.08,1195.79 1096.08,1205.77 1097.67,1210.76 1099.67,1205.77 1101.66,1193.8 1103.66,1183.82 1105.46,1179.83 1107.45,1183.82 1109.45,1193.8 1111.44,1205.77 1113.44,1219.74 1115.43,1233.7 1117.43,1243.68 1119.42,1251.66 1121.42,1258.64" fill="none" stroke="#ff0000" stroke-width="1.95" stroke-linejoin="round"/>
<polyline points="708.99,1238.69 710.58,1223.73 711.98,1207.77 713.97,1193.8 715.97,1184.82 717.96,1181.83 719.96,1185.82 721.36,1193.8 722.55,1195.79 723.95,1189.81 725.94,1175.84 727.94,1163.87 729.93,1158.89 731.93,1156.89 733.92,1156.89 736.52,1157.89 738.91,1158.89 740.91,1157.89 742.9,1154.89 744.9,1149.91 746.89,1143.92 748.89,1135.94 750.88,1127.96 752.88,1119.98 754.47,1109.61 755.87,1097.64 757.27,1085.67 758.46,1075.69 759.86,1067.71 761.86,1062.72 763.85,1064.72 765.85,1067.71 766.84,1070.7 768.44,1063.72 769.84,1051.75 771.23,1039.78 772.83,1033.79 774.43,1037.79 775.82,1049.76 777.22,1063.72 778.42,1081.68 779.81,1101.63 781.21,1117.59 783.2,1127.96 784.8,1135.54 786.4,1127.96 787.79,1113.6 789.19,1095.64 790.39,1077.69 791.78,1063.72 793.18,1051.75 794.78,1043.77 796.77,1039.78 798.77,1037.79 800.76,1034.79 802.36,1027.81 803.75,1017.83 805.15,1007.86 806.75,1002.87 808.34,1000.88 809.74,1003.87 811.14,1009.85 812.73,1017.83 814.33,1020.83 816.72,1021.82 818.32,1023.82 819.71,1033.79 821.11,1045.77 822.71,1065.72 823.7,1089.66 824.7,1113.6 825.1,1131.95 826.3,1151.9 827.69,1177.84 829.09,1201.78 830.69,1221.73 832.28,1237.69 833.68,1246.67 835.08,1239.69 837.07,1221.73 839.07,1203.78 841.06,1187.81 843.06,1177.84 845.05,1171.85 846.25,1171.45 848.24,1175.84 850.24,1181.83 852.23,1187.81 854.23,1193.8 856.62,1198.79 859.02,1203.78 861.01,1209.76 862.61,1215.75 864.6,1223.73 866.6,1231.71 868.59,1237.69 870.59,1239.69 872.58,1237.69 874.98,1231.71 876.97,1227.72 878.97,1224.72 880.96,1227.72 882.56,1235.7 884.56,1245.67 886.55,1253.65 888.55,1259.64 891.54,1261.63 894.53,1263.63 896.93,1269.61 898.92,1277.59 900.92,1283.58 903.51,1286.57 904.95,1287.57 922.9,1287.57 925.89,1285.57 928.49,1279.59 930.88,1271.61 932.88,1267.22 934.47,1266.62 936.47,1270.61 938.46,1274.6 940.46,1276 942.45,1272.61 944.45,1268.62 946.44,1265.62 948.44,1267.62 950.43,1269.61 952.43,1270.01 954.43,1268.62 956.42,1265.62 958.42,1262.63 961.21,1262.03 963.8,1261.63 966.4,1262.03 968.39,1262.63 970.39,1257.64 972.38,1249.66 974.38,1239.69 976.37,1229.71 978.37,1221.73 980.36,1217.74 982.36,1219.74 984.35,1221.33 986.35,1220.73 988.74,1218.74 990.74,1217.74 992.73,1218.74 994.73,1219.74 996.72,1219.74 997.72,1213.75 998.72,1203.78 999.71,1191.8 1000.71,1177.84 1002.31,1161.88 1003.7,1147.91 1005.1,1137.94 1006.3,1136.94 1008.29,1143.92 1010.29,1155.89 1012.28,1168.86 1013.68,1167.86 1015.08,1157.89 1016.67,1141.93 1019.67,1101.63 1021.66,1087.66 1023.66,1079.68 1025.05,1078.09 1027.05,1083.67 1029.04,1093.65 1031.04,1101.63 1033.03,1105.22 1035.03,1099.63 1037.02,1087.66 1039.02,1071.7 1041.01,1057.74 1043.01,1049.76 1044.6,1048.76 1046.6,1051.75 1048.59,1061.73 1050.59,1071.7 1052.58,1076.09 1054.58,1071.7 1056.57,1061.73 1058.57,1051.75 1060.57,1044.77 1061.56,1043.77 1063.56,1049.76 1065.55,1061.73 1067.55,1073.7 1069.54,1081.68 1071.54,1084.07 1073.53,1079.68 1075.53,1071.7 1077.52,1068.71 1079.52,1071.7 1081.51,1076.69 1083.11,1077.69 1085.11,1071.7 1086.5,1066.71 1088.1,1065.32 1090.09,1069.71 1091.49,1081.68 1092.89,1097.64 1094.48,1113.6 1096.08,1125.57 1098.07,1138.93 1100.07,1133.95 1102.06,1125.97 1104.46,1113.6 1106.45,1109.61 1108.45,1115.59 1110.44,1125.57 1111.44,1135.94 1113.44,1147.91 1115.43,1157.89 1117.43,1165.87 1119.42,1177.84 1120.82,1191.8 1121.42,1201.78" fill="none" stroke="#000000" stroke-width="1.95" stroke-linejoin="round"/>
<rect x="703.6" y="956.2" width="423" height="336.2" fill="none" stroke="#000" stroke-width="2.8"/>
<line x1="1128.7" y1="981.4" x2="1135.7" y2="981.4" stroke="#ff0000" stroke-width="1.8"/>
<text x="1146" y="988.3" class="lg"><tspan font-style="italic">π</tspan>-Spacer</text>
<line x1="1128.7" y1="1006.7" x2="1135.7" y2="1006.7" stroke="#008000" stroke-width="1.8"/>
<text x="1146" y="1013.6" class="lg">Donor</text>
<line x1="1128.7" y1="1032" x2="1135.7" y2="1032" stroke="#0000ff" stroke-width="1.8"/>
<text x="1146" y="1038.9" class="lg">Acceptor</text>
<line x1="1128.7" y1="1057.3" x2="1135.7" y2="1057.3" stroke="#000000" stroke-width="1.8"/>
<text x="1146" y="1064.2" class="lg">Total</text>
<text x="851.1" y="1384.9" class="ti" font-size="29.4">PCMD5</text>
<text x="860.8" y="1344.1" class="xl">Energy (<tspan font-style="italic">eV</tspan>)</text>
<text transform="translate(649.4,1129) rotate(-90)" text-anchor="middle" class="yl">Relative Intensity</text>
<text x="59.3" y="1766.8" text-anchor="end" class="t">0</text>
<text x="59.3" y="1727.36" text-anchor="end" class="t">2</text>
<text x="59.3" y="1687.92" text-anchor="end" class="t">4</text>
<text x="59.3" y="1648.48" text-anchor="end" class="t">6</text>
<text x="59.3" y="1609.04" text-anchor="end" class="t">8</text>
<text x="59.3" y="1569.6" text-anchor="end" class="t">10</text>
<text x="59.3" y="1530.16" text-anchor="end" class="t">12</text>
<text x="59.3" y="1490.72" text-anchor="end" class="t">14</text>
<text x="59.3" y="1451.28" text-anchor="end" class="t">16</text>
<text x="87.4" y="1790.1" text-anchor="middle" class="t">-15</text>
<text x="180.9" y="1790.1" text-anchor="middle" class="t">-10</text>
<text x="274.4" y="1790.1" text-anchor="middle" class="t">-5</text>
<text x="367.9" y="1790.1" text-anchor="middle" class="t">0</text>
<text x="461.4" y="1790.1" text-anchor="middle" class="t">5</text>
<path d="M61.6 1759.4H68.6M65.1 1749.54H68.6M65.1 1739.68H68.6M65.1 1729.82H68.6M61.6 1719.96H68.6M65.1 1710.1H68.6M65.1 1700.24H68.6M65.1 1690.38H68.6M61.6 1680.52H68.6M65.1 1670.66H68.6M65.1 1660.8H68.6M65.1 1650.94H68.6M61.6 1641.08H68.6M65.1 1631.22H68.6M65.1 1621.36H68.6M65.1 1611.5H68.6M61.6 1601.64H68.6M65.1 1591.78H68.6M65.1 1581.92H68.6M65.1 1572.06H68.6M61.6 1562.2H68.6M65.1 1552.34H68.6M65.1 1542.48H68.6M65.1 1532.62H68.6M61.6 1522.76H68.6M65.1 1512.9H68.6M65.1 1503.04H68.6M65.1 1493.18H68.6M61.6 1483.32H68.6M65.1 1473.46H68.6M65.1 1463.6H68.6M65.1 1453.74H68.6M61.6 1443.88H68.6M87.4 1765.5V1772.5M106.1 1765.5V1769M124.8 1765.5V1769M143.5 1765.5V1769M162.2 1765.5V1769M180.9 1765.5V1772.5M199.6 1765.5V1769M218.3 1765.5V1769M237 1765.5V1769M255.7 1765.5V1769M274.4 1765.5V1772.5M293.1 1765.5V1769M311.8 1765.5V1769M330.5 1765.5V1769M349.2 1765.5V1769M367.9 1765.5V1772.5M386.6 1765.5V1769M405.3 1765.5V1769M424 1765.5V1769M442.7 1765.5V1769M461.4 1765.5V1772.5M480.1 1765.5V1769" stroke="#000" stroke-width="1.25" fill="none"/>
<polyline points="75.38,1755.58 76.58,1751.59 78.57,1746.6 80.97,1742.61 82.96,1741.61 84.96,1743.61 86.95,1745.6 88.95,1743.61 90.94,1739.62 92.94,1735.63 94.93,1732.64 96.93,1731.24 98.92,1733.63 100.92,1737.62 102.91,1741.61 105.31,1743.61 107.3,1742.61 109.3,1740.62 111.29,1739.22 113.89,1738.62 116.48,1737.62 118.47,1735.63 120.47,1731.64 122.46,1726.65 124.86,1721.66 126.85,1715.68 128.85,1711.69 130.84,1703.71 132.84,1695.73 134.83,1687.75 136.83,1682.76 138.43,1681.36 140.42,1685.75 142.42,1695.73 144.41,1709.69 146.41,1723.66 148.4,1735.63 150.4,1741.61 152.39,1744.61 154.39,1745.21 156.38,1743.61 158.38,1741.61 160.37,1738.62 162.37,1735.63 164.76,1731.64 166.76,1725.65 168.35,1715.68 169.75,1705.7 171.14,1697.72 172.74,1692.73 174.34,1695.73 175.93,1703.71 177.73,1713.68 179.13,1717.67 180.72,1715.68 182.72,1712.68 184.71,1710.69 186.71,1709.69 188.7,1713.68 190.7,1725.65 192.69,1739.62 194.69,1749.59 196.68,1755.58 198.68,1758.57 200.67,1759.17 202.67,1757.57 204.66,1753.58 206.66,1747.6 208.65,1741.61 210.65,1737.62 212.64,1735.63 214.64,1734.63 216.63,1733.23 218.63,1731.64 221.02,1728.65 223.02,1726.65 224.61,1726.05 226.61,1729.64 228.6,1737.62 230.6,1745.6 232.59,1752.59 234.99,1756.58 236.98,1757.57 238.98,1755.58 240.97,1749.59 242.97,1743.61 244.96,1738.62 247.56,1734.63 248.95,1734.03 250.95,1736.63 252.94,1740.62 254.94,1745.6 257.53,1750.59 260.53,1754.58 263.52,1757.18 267.51,1759.17 270.5,1759.97 270.95,1759.97 317.83,1759.97 321.82,1759.17 325.81,1757.97 329.8,1757.18 333.79,1756.58 337.79,1755.98 340.78,1753.58 342.77,1747.6 344.77,1739.62 346.76,1733.63 348.76,1731.64 350.75,1731.24 352.75,1732.64 354.74,1735.63 356.74,1738.62 358.73,1742.61 360.73,1741.61 362.72,1738.62 364.72,1738.62 366.71,1740.62 368.71,1742.61 370.7,1743.61 372.7,1743.61 374.69,1741.61 376.69,1737.62 378.68,1731.64 380.68,1725.65 382.68,1722.66 384.67,1721.66 386.67,1719.67 388.66,1716.68 390.66,1713.68 392.65,1711.29 394.65,1713.68 396.64,1717.67 398.64,1720.67 400.63,1722.66 402.63,1723.66 404.62,1724.66 406.62,1725.65 408.61,1723.66 410.61,1719.67 412.6,1715.68 414,1715.28 415.99,1717.67 417.99,1723.66 419.98,1727.65 421.98,1723.66 423.97,1717.67 425.97,1711.69 427.57,1709.69 429.56,1713.68 431.56,1721.66 433.55,1725.65 435.55,1726.05 437.54,1723.66 439.54,1721.66 441.13,1721.26 443.13,1723.66 445.12,1727.65 447.12,1730.64 449.11,1731.64 451.11,1729.64 453.5,1727.65 455.5,1728.65 457.89,1731.64 460.48,1734.63 463.48,1737.62 466.47,1740.62 469.46,1742.01 472.46,1741.61 475.05,1738.62 477.04,1733.63 479.04,1725.65 481.03,1717.67 482.43,1712.68 484.43,1717.67 485.82,1727.65 487.42,1735.63" fill="none" stroke="#008000" stroke-width="1.95" stroke-linejoin="round"/>
<polyline points="75.38,1753.58 76.58,1747.6 78.57,1741.61 80.97,1735.63 82.96,1732.64 84.56,1734.63 86.55,1741.61 88.95,1747.6 90.94,1749.59 92.94,1749.59 94.93,1745.6 96.93,1735.63 98.92,1723.66 100.92,1707.7 102.91,1693.73 104.91,1679.77 106.5,1671.79 107.5,1669.79 109.3,1675.78 111.29,1687.75 113.29,1697.72 115.28,1704.7 117.28,1708.69 119.27,1706.7 121.27,1699.72 123.26,1687.75 125.26,1677.77 126.85,1672.78 128.85,1673.78 130.84,1676.77 132.84,1678.77 134.83,1675.78 136.83,1667.79 138.82,1657.82 140.42,1647.84 141.82,1642.86 143.81,1649.84 145.81,1667.79 147.8,1689.74 149.8,1711.69 151.79,1725.65 153.79,1729.64 155.78,1727.65 157.78,1719.67 159.77,1707.7 161.77,1697.72 163.76,1687.75 165.76,1681.76 167.15,1680.76 169.15,1683.76 171.14,1691.74 173.14,1703.71 175.14,1713.68 177.13,1719.67 179.13,1721.66 181.72,1722.66 183.71,1724.66 185.71,1729.64 187.7,1735.63 189.7,1739.62 192.29,1740.62 194.69,1741.61 196.68,1743.61 199.08,1746.6 201.67,1749.59 204.26,1752.59 206.66,1754.58 209.65,1754.58 211.65,1751.59 213.64,1745.6 215.64,1737.62 217.63,1729.64 219.63,1723.66 220.62,1722.06 222.62,1725.65 224.61,1731.64 226.61,1735.63 229,1737.62 231.6,1740.62 233.59,1743.61 235.59,1749.59 237.58,1755.58 239.58,1756.78 242.57,1756.78 245.56,1756.78 248.56,1757.18 252.55,1757.97 258.53,1758.57 264.52,1759.17 270.5,1759.97 270.95,1759.97 291.9,1759.97 294.89,1755.58 297.88,1751.59 300.88,1748 302.87,1749.59 305.46,1752.59 308.26,1754.58 310.25,1752.59 312.25,1748.6 314.24,1745.21 316.24,1743.61 318.23,1744.61 320.23,1747.2 322.82,1749.59 325.42,1749.59 327.81,1749.99 330.2,1751.59 332.8,1753.19 335.79,1754.58 338.78,1755.18 341.38,1754.58 343.77,1751.59 345.77,1745.6 347.76,1741.61 349.76,1739.22 351.75,1737.62 353.75,1735.63 355.74,1733.23 357.74,1731.24 359.73,1729.24 361.73,1732.64 363.72,1738.62 365.72,1745.6 368.11,1749.59 370.7,1751.59 373.3,1752.59 375.69,1752.59 377.69,1751.19 379.68,1747.6 381.68,1741.61 383.67,1735.63 385.67,1729.64 387.66,1725.65 389.66,1723.66 391.65,1721.66 393.65,1719.67 395.64,1716.68 397.64,1713.68 399.63,1712.68 401.63,1715.68 403.62,1723.66 405.62,1733.63 407.61,1743.61 409.61,1750.59 411.21,1751.19 413.2,1747.6 415.2,1739.62 417.19,1731.64 419.19,1725.65 421.18,1722.66 423.18,1723.66 425.17,1726.65 427.17,1728.65 429.16,1725.65 431.16,1717.67 433.15,1711.29 435.15,1713.68 437.14,1721.66 439.14,1729.64 441.13,1731.64 443.13,1727.65 445.12,1719.67 447.12,1711.69 449.11,1705.7 451.11,1700.71 453.1,1698.12 455.1,1701.71 457.09,1709.69 459.09,1719.67 461.08,1725.65 463.08,1727.25 465.47,1726.65 467.87,1724.66 470.46,1722.66 473.05,1721.66 475.45,1721.66 477.44,1719.67 479.44,1715.68 481.43,1710.69 483.03,1708.69 485.02,1713.68 486.42,1723.66 487.82,1731.64" fill="none" stroke="#0000ff" stroke-width="1.95" stroke-linejoin="round"/>
<polyline points="75.38,1733.63 76.58,1729.64 78.57,1726.65 80.97,1726.05 83.96,1726.65 86.95,1725.65 88.95,1723.66 90.94,1719.67 92.94,1716.68 94.93,1714.68 97.92,1714.68 99.92,1713.68 101.91,1711.69 103.91,1708.69 105.9,1706.7 108.9,1704.7 111.89,1702.71 114.48,1698.72 116.48,1693.73 118.47,1694.73 120.47,1697.72 122.46,1695.73 124.86,1685.75 126.85,1673.78 128.85,1667.79 129.85,1665.8 131.84,1669.79 133.84,1674.78 135.83,1675.78 137.83,1673.78 139.82,1671.79 141.82,1671.79 143.81,1675.78 145.81,1683.76 147.8,1691.74 149.2,1694.73 150.79,1689.74 152.79,1679.77 154.79,1667.79 156.78,1659.81 158.78,1654.83 160.37,1654.23 162.37,1656.82 164.76,1661.81 166.76,1667.79 168.75,1673.78 170.75,1679.77 172.34,1681.76 174.34,1675.78 176.33,1667.79 178.33,1659.81 180.32,1651.83 182.32,1645.85 184.71,1643.85 186.71,1647.84 188.7,1659.81 190.7,1677.77 192.69,1699.72 194.69,1719.67 196.68,1737.62 198.28,1741.61 200.27,1735.63 202.27,1723.66 204.26,1707.7 206.26,1697.72 208.25,1691.74 209.65,1689.74 211.65,1695.73 213.64,1707.7 215.64,1721.66 217.63,1733.63 219.63,1740.62 222.22,1743.61 224.61,1743.61 226.61,1741.61 228.6,1737.62 230.6,1733.63 232.59,1729.64 234.59,1726.65 236.58,1723.66 238.98,1721.66 240.97,1722.66 242.97,1726.65 244.96,1731.64 246.96,1737.62 248.95,1743.61 250.95,1747.6 252.94,1749.99 255.54,1750.59 257.53,1747.6 259.53,1745.6 260.93,1745.21 262.92,1747.6 264.92,1751.59 267.51,1756.58 270.5,1759.57 270.95,1759.97 291.9,1759.97 294.89,1757.57 297.88,1755.18 300.88,1753.98 303.47,1755.58 306.26,1757.57 309.45,1758.57 312.85,1758.77 316.84,1758.57 319.83,1757.57 322.22,1755.18 324.82,1751.59 327.81,1748.6 330.8,1748 333.79,1748 336.79,1749.59 339.38,1748.6 341.78,1743.61 343.77,1737.62 345.37,1733.63 347.36,1734.03 349.36,1737.62 351.35,1741.61 353.75,1745.6 356.74,1746.6 359.73,1745.6 361.73,1741.61 363.72,1735.63 365.32,1719.67 366.71,1695.73 368.11,1679.77 369.71,1671.79 371.7,1667.79 373.7,1671.79 375.69,1683.76 377.69,1697.72 379.68,1707.7 381.28,1710.09 383.27,1703.71 385.27,1691.74 387.26,1679.77 388.66,1674.78 390.66,1677.77 392.65,1683.76 394.65,1689.74 396.64,1691.74 398.64,1687.75 400.63,1679.77 402.63,1667.79 404.62,1655.82 406.62,1647.84 409.21,1645.45 411.21,1647.84 413.2,1652.83 415.59,1656.82 417.59,1656.82 419.58,1653.83 421.98,1650.84 424.57,1647.84 427.17,1643.85 429.16,1642.26 431.16,1645.85 433.15,1651.83 435.55,1656.82 437.94,1659.81 440.53,1660.81 442.53,1663.8 444.52,1669.79 446.52,1675.78 448.51,1678.77 450.51,1675.78 452.5,1671.79 453.9,1669.79 455.9,1673.78 457.89,1679.77 459.89,1687.75 461.88,1693.33 463.88,1687.75 465.87,1677.77 467.87,1667.79 469.86,1663.41 471.86,1665.8 473.85,1673.78 475.85,1687.75 477.84,1703.71 479.84,1715.68 481.83,1723.66 483.83,1731.64 485.82,1737.62 487.82,1742.61" fill="none" stroke="#ff0000" stroke-width="1.95" stroke-linejoin="round"/>
<polyline points="75.38,1723.66 76.58,1709.69 77.97,1697.72 79.97,1687.75 81.96,1681.76 83.36,1680.76 85.36,1685.75 86.95,1691.74 88.55,1693.73 90.54,1687.75 92.54,1677.77 94.93,1667.79 97.33,1659.81 99.32,1649.84 101.32,1637.87 103.31,1625.9 105.31,1611.93 106.9,1599.96 107.9,1596.97 109.89,1599.96 111.89,1607.94 113.89,1615.92 115.88,1618.32 117.88,1617.92 119.87,1613.93 121.87,1603.95 123.26,1593.98 123.26,1583.6 124.86,1563.65 126.45,1543.7 127.85,1529.73 129.85,1526.74 131.84,1528.73 133.24,1527.74 134.83,1521.75 136.43,1507.79 137.83,1495.81 139.22,1485.84 140.42,1483.44 141.82,1485.84 143.21,1503.79 144.41,1531.73 145.81,1555.67 147.2,1579.61 148.8,1603.95 150.4,1623.9 151.59,1639.86 153.19,1633.88 154.79,1619.91 156.78,1603.95 158.38,1587.59 159.97,1575.62 161.77,1565.64 163.76,1557.66 165.76,1551.68 167.75,1547.69 169.75,1545.69 171.14,1545.69 172.74,1551.68 174.34,1559.66 175.73,1569.63 177.13,1575.62 178.73,1579.61 180.32,1575.62 181.72,1567.64 183.12,1562.65 184.71,1561.25 186.31,1565.64 187.7,1577.61 189.1,1591.58 190.7,1613.93 192.29,1643.85 193.89,1673.78 195.68,1699.72 197.68,1719.67 199.08,1723.66 200.67,1715.68 202.67,1699.72 204.66,1683.76 206.66,1671.79 208.65,1664.8 210.25,1663.41 212.24,1665.8 214.24,1670.79 216.23,1673.78 218.23,1672.78 220.22,1674.78 222.22,1679.77 224.61,1685.75 226.61,1691.74 228.6,1696.72 230.6,1701.71 232.99,1706.7 235.59,1711.69 237.58,1712.68 239.58,1710.69 241.57,1707.7 243.57,1704.7 245.16,1703.71 247.16,1706.7 248.95,1711.69 250.55,1719.67 252.15,1727.65 254.14,1733.63 256.54,1737.62 259.53,1739.62 261.52,1742.61 263.52,1747.6 265.51,1753.58 267.51,1757.57 269.5,1759.97 270.95,1759.97 291.9,1759.97 294.89,1755.58 297.48,1749.59 299.88,1744.61 301.87,1741.61 303.87,1745.6 305.86,1750.59 307.86,1753.58 309.85,1750.59 311.85,1745.6 313.84,1742.61 315.84,1740.62 317.83,1741.61 320.23,1742.61 322.22,1741.61 324.82,1738.62 327.41,1736.63 329.41,1735.63 331.8,1737.62 334.19,1740.62 336.79,1742.61 338.78,1741.61 340.78,1733.63 342.77,1719.67 344.17,1705.7 345.77,1695.73 347.76,1689.74 349.36,1688.74 351.35,1691.74 353.35,1694.73 355.34,1697.72 357.74,1698.72 360.73,1697.72 363.32,1693.73 364.72,1687.75 366.12,1677.77 367.71,1663.8 369.71,1649.84 371.7,1643.85 373.7,1647.84 375.69,1657.82 377.69,1665.8 379.28,1667.4 380.68,1663.8 382.08,1651.83 383.67,1637.87 385.27,1623.9 386.86,1607.94 388.66,1597.97 390.66,1594.97 392.65,1597.97 394.65,1601.96 397.24,1604.95 399.63,1603.55 402.03,1602.95 404.62,1602.95 406.62,1601.96 409.61,1595.57 412.6,1591.98 415.59,1589.58 418.59,1586.59 420.58,1581.6 422.58,1573.62 424.57,1565.64 426.57,1559.66 428.56,1557.26 430.56,1557.66 432.55,1561.65 434.55,1569.63 436.54,1579.61 438.54,1589.58 440.53,1592.58 443.53,1593.97 446.52,1595.17 448.51,1591.58 450.51,1583.6 452.5,1575.62 453.5,1575.22 455.1,1579.61 456.49,1591.58 458.49,1609.94 460.48,1623.9 462.48,1636.27 464.47,1633.88 466.47,1623.9 468.46,1613.93 470.46,1607.94 471.86,1607.54 473.85,1611.93 475.45,1617.92 477.44,1622.9 479.44,1623.9 481.43,1621.91 483.03,1624.9 484.43,1635.87 485.82,1651.83 487.02,1671.79 487.82,1694.73" fill="none" stroke="#000000" stroke-width="1.95" stroke-linejoin="round"/>
<rect x="70" y="1425.5" width="422.8" height="338.6" fill="none" stroke="#000" stroke-width="2.8"/>
<line x1="495.9" y1="1449.3" x2="502.9" y2="1449.3" stroke="#ff0000" stroke-width="1.8"/>
<text x="511" y="1456.2" class="lg"><tspan font-style="italic">π</tspan>-Spacer</text>
<line x1="495.9" y1="1473.6" x2="502.9" y2="1473.6" stroke="#008000" stroke-width="1.8"/>
<text x="511" y="1480.5" class="lg">Donor</text>
<line x1="495.9" y1="1497.9" x2="502.9" y2="1497.9" stroke="#0000ff" stroke-width="1.8"/>
<text x="511" y="1504.8" class="lg">Acceptor</text>
<line x1="495.9" y1="1522.2" x2="502.9" y2="1522.2" stroke="#000000" stroke-width="1.8"/>
<text x="511" y="1529.1" class="lg">Total</text>
<text x="218.9" y="1861.8" class="ti" font-size="29.4">PCMD6</text>
<text x="227.4" y="1812.6" class="xl">Energy (<tspan font-style="italic">eV</tspan>)</text>
<text transform="translate(16.4,1599) rotate(-90)" text-anchor="middle" class="yl">Relative Intensity</text>
<text x="699.7" y="1763.7" text-anchor="end" class="t">0</text>
<text x="699.7" y="1719.46" text-anchor="end" class="t">2</text>
<text x="699.7" y="1675.22" text-anchor="end" class="t">4</text>
<text x="699.7" y="1630.98" text-anchor="end" class="t">6</text>
<text x="699.7" y="1586.74" text-anchor="end" class="t">8</text>
<text x="699.7" y="1542.5" text-anchor="end" class="t">10</text>
<text x="699.7" y="1498.26" text-anchor="end" class="t">12</text>
<text x="699.7" y="1454.02" text-anchor="end" class="t">14</text>
<text x="726.17" y="1787.9" text-anchor="middle" class="t">-15</text>
<text x="817.95" y="1787.9" text-anchor="middle" class="t">-10</text>
<text x="909.73" y="1787.9" text-anchor="middle" class="t">-5</text>
<text x="1001.5" y="1787.9" text-anchor="middle" class="t">0</text>
<text x="1093.28" y="1787.9" text-anchor="middle" class="t">5</text>
<path d="M702 1756.3H709M705.5 1745.24H709M705.5 1734.18H709M705.5 1723.12H709M702 1712.06H709M705.5 1701H709M705.5 1689.94H709M705.5 1678.88H709M702 1667.82H709M705.5 1656.76H709M705.5 1645.7H709M705.5 1634.64H709M702 1623.58H709M705.5 1612.52H709M705.5 1601.46H709M705.5 1590.4H709M702 1579.34H709M705.5 1568.28H709M705.5 1557.22H709M705.5 1546.16H709M702 1535.1H709M705.5 1524.04H709M705.5 1512.98H709M705.5 1501.92H709M702 1490.86H709M705.5 1479.8H709M705.5 1468.74H709M705.5 1457.68H709M702 1446.62H709M726.17 1763.3V1770.3M744.53 1763.3V1766.8M762.88 1763.3V1766.8M781.24 1763.3V1766.8M799.6 1763.3V1766.8M817.95 1763.3V1770.3M836.31 1763.3V1766.8M854.66 1763.3V1766.8M873.01 1763.3V1766.8M891.37 1763.3V1766.8M909.73 1763.3V1770.3M928.08 1763.3V1766.8M946.43 1763.3V1766.8M964.79 1763.3V1766.8M983.14 1763.3V1766.8M1001.5 1763.3V1770.3M1019.86 1763.3V1766.8M1038.21 1763.3V1766.8M1056.57 1763.3V1766.8M1074.92 1763.3V1766.8M1093.28 1763.3V1770.3M1111.63 1763.3V1766.8" stroke="#000" stroke-width="1.25" fill="none"/>
<polyline points="713.99,1751.58 715.38,1747.59 716.98,1741.61 718.98,1737.62 720.97,1735.62 722.97,1736.62 724.96,1739.61 727.36,1740.01 728.95,1737.62 730.95,1730.64 732.94,1725.65 734.54,1724.05 736.53,1726.65 738.53,1731.63 740.52,1735.62 742.92,1738.02 744.91,1737.62 746.91,1735.62 748.9,1733.63 750.9,1732.03 753.29,1731.23 755.29,1729.64 757.28,1725.65 759.28,1721.66 761.27,1715.67 763.27,1709.69 765.26,1703.7 767.26,1697.72 769.25,1689.74 771.25,1683.75 773.24,1675.77 775.24,1669.79 776.43,1668.79 778.43,1671.78 780.43,1681.76 782.42,1695.72 784.42,1711.68 786.41,1725.65 788.41,1735.62 790.8,1739.61 792.79,1738.62 794.79,1736.62 796.79,1734.63 798.78,1731.63 800.78,1727.64 802.77,1721.66 804.37,1711.68 805.76,1699.71 807.16,1689.74 808.76,1681.76 809.75,1680.76 811.15,1685.75 812.75,1693.73 814.34,1703.7 815.74,1709.69 817.73,1712.68 819.73,1709.69 821.72,1703.7 823.12,1700.71 824.72,1703.7 826.71,1713.68 828.71,1727.64 830.7,1739.61 832.7,1749.59 834.69,1753.58 836.69,1754.58 838.68,1753.58 840.68,1749.59 842.67,1743.6 844.67,1735.62 846.66,1729.64 848.66,1729.24 851.05,1729.64 853.05,1728.64 855.04,1725.65 857.04,1722.66 858.63,1721.66 860.63,1725.65 862.62,1731.63 864.62,1739.61 866.61,1746.6 868.61,1751.58 870.6,1753.18 872.6,1751.58 874.59,1745.6 876.59,1738.62 878.58,1732.63 880.58,1728.64 882.57,1727.24 884.57,1729.64 886.57,1734.63 888.56,1739.61 890.56,1744.6 893.55,1749.59 896.54,1752.58 899.53,1754.58 902.53,1755.57 906.52,1756.57 906.94,1756.57 952.83,1756.57 956.82,1755.18 960.81,1753.98 964.8,1753.18 968.79,1752.58 971.78,1750.59 973.78,1746.6 975.77,1740.61 977.77,1734.63 979.76,1729.64 981.76,1726.65 983.75,1725.25 985.75,1725.65 987.74,1728.64 989.74,1732.63 991.73,1735.62 993.73,1734.63 995.72,1731.63 997.72,1730.64 999.71,1733.63 1001.71,1736.62 1003.7,1737.62 1005.7,1736.62 1007.69,1732.63 1009.69,1725.65 1011.68,1719.66 1013.68,1715.67 1016.67,1712.68 1018.67,1711.28 1020.66,1708.69 1022.66,1705.7 1025.05,1702.7 1026.65,1701.71 1028.64,1704.7 1030.64,1708.69 1032.63,1711.68 1035.63,1714.68 1038.22,1716.07 1040.61,1716.07 1042.61,1713.68 1044.6,1709.69 1046.2,1707.29 1048.2,1710.68 1050.19,1715.67 1052.19,1720.66 1052.98,1721.66 1054.98,1717.67 1056.97,1711.68 1058.97,1705.7 1060.17,1702.7 1062.16,1705.7 1064.16,1711.68 1066.15,1717.67 1068.15,1721.66 1070.14,1719.66 1072.14,1715.67 1074.13,1711.68 1076.13,1714.68 1078.12,1719.66 1080.12,1721.66 1082.51,1720.66 1084.91,1719.66 1086.9,1718.67 1088.9,1721.66 1090.89,1725.65 1092.89,1729.64 1094.88,1732.63 1097.47,1735.22 1100.47,1736.02 1103.46,1735.62 1106.05,1733.63 1108.05,1729.64 1110.04,1721.66 1112.04,1711.68 1114.03,1703.7 1116.03,1705.7 1117.43,1711.68 1118.82,1721.66 1120.42,1729.64" fill="none" stroke="#008000" stroke-width="1.95" stroke-linejoin="round"/>
<polyline points="713.99,1743.6 715.38,1737.62 716.98,1731.63 718.98,1725.65 720.97,1722.66 723.36,1721.66 725.36,1723.65 727.36,1727.64 729.35,1732.63 731.35,1737.62 733.34,1740.61 734.94,1740.61 736.53,1737.62 737.93,1729.64 739.33,1717.67 740.52,1705.7 741.92,1689.74 743.32,1673.78 744.91,1663.8 745.91,1661.8 747.31,1667.79 748.9,1679.76 750.9,1693.73 752.89,1701.71 754.49,1701.71 756.48,1696.72 758.48,1691.73 760.47,1690.73 762.47,1693.73 764.86,1696.72 767.26,1697.72 769.85,1698.71 771.85,1697.72 773.84,1693.73 775.84,1687.74 777.83,1681.76 779.83,1676.77 781.82,1679.76 783.82,1685.75 785.81,1690.73 787.81,1689.74 789.8,1685.75 791.8,1681.76 793.79,1679.76 795.79,1681.76 797.78,1685.75 799.78,1689.74 801.77,1690.73 803.77,1683.75 805.76,1671.78 807.76,1657.81 809.15,1646.84 810.75,1649.83 812.75,1663.8 814.74,1681.76 816.74,1697.72 818.73,1709.69 820.73,1715.67 823.12,1719.66 825.12,1722.66 827.11,1719.66 829.11,1711.68 831.1,1703.7 833.1,1698.71 834.69,1697.72 836.69,1701.71 838.68,1705.7 840.68,1707.69 842.67,1707.69 844.67,1710.68 846.66,1717.67 848.66,1725.65 850.65,1730.64 852.65,1729.64 854.64,1725.65 856.64,1721.66 858.63,1719.66 860.63,1721.66 862.62,1725.65 864.62,1730.64 866.61,1732.63 868.61,1733.63 870.6,1737.62 872.6,1743.6 874.59,1748.59 876.59,1751.19 879.58,1752.58 882.57,1753.18 886.57,1753.98 890.56,1754.58 895.54,1755.18 900.53,1755.57 906.52,1756.57 906.54,1756.57 927.89,1756.57 930.88,1752.58 933.88,1747.59 936.47,1743.6 938.46,1745.6 940.86,1749.59 943.25,1750.59 945.25,1747.59 947.24,1743.6 949.24,1739.61 951.23,1737.22 953.23,1738.62 955.22,1741.61 957.82,1744.6 960.41,1746 962.8,1745.6 965.2,1745.6 967.79,1746.6 970.39,1746.6 973.18,1743.6 975.17,1739.61 977.17,1735.62 978.77,1733.63 980.76,1736.62 982.76,1740.61 984.75,1743.21 986.75,1743.6 988.74,1739.61 990.74,1733.63 992.73,1727.64 994.33,1725.25 996.32,1728.64 998.32,1734.63 1000.71,1739.61 1002.71,1742.61 1004.7,1743.21 1006.7,1739.61 1008.69,1731.63 1010.69,1721.66 1012.68,1713.68 1014.68,1707.69 1016.67,1703.7 1018.67,1699.71 1020.66,1695.72 1022.66,1690.73 1024.25,1686.74 1026.25,1689.74 1028.24,1697.72 1030.24,1705.7 1032.23,1710.68 1034.63,1713.68 1037.62,1716.07 1040.21,1717.27 1042.21,1713.68 1044.21,1703.7 1046.2,1689.74 1048.2,1675.77 1050.19,1665.79 1052.19,1660.81 1053.58,1659.81 1055.58,1661.8 1057.57,1666.79 1059.57,1675.77 1061.56,1689.74 1063.56,1701.71 1065.55,1709.69 1067.55,1713.68 1069.54,1717.67 1071.54,1723.65 1073.53,1729.64 1075.53,1730.64 1077.52,1725.65 1079.52,1717.67 1081.51,1708.69 1083.51,1701.71 1085.5,1700.11 1087.5,1703.7 1089.49,1711.68 1091.49,1721.66 1093.48,1730.64 1095.48,1736.62 1096.88,1736.62 1098.87,1731.63 1100.87,1725.65 1103.46,1720.66 1106.05,1716.67 1108.45,1712.68 1110.44,1709.69 1112.04,1708.69 1114.03,1713.68 1116.03,1719.66 1118.02,1725.65 1120.02,1731.63 1121.02,1735.62" fill="none" stroke="#0000ff" stroke-width="1.95" stroke-linejoin="round"/>
<polyline points="713.99,1727.64 715.38,1723.65 716.98,1720.66 718.98,1719.66 721.37,1719.26 723.96,1718.07 725.96,1716.07 727.95,1713.68 729.95,1710.68 731.94,1708.09 733.94,1706.69 736.93,1705.7 738.93,1704.7 740.52,1701.71 741.92,1698.71 743.91,1695.72 745.91,1694.72 747.9,1692.73 749.9,1690.73 751.89,1687.74 753.89,1683.75 755.29,1682.75 757.28,1684.75 759.28,1686.74 761.27,1681.76 763.27,1669.79 765.26,1657.81 767.26,1648.84 769.25,1651.83 771.25,1657.81 773.24,1663.8 775.24,1660.81 777.83,1657.81 779.83,1661.8 781.82,1667.79 783.82,1675.77 785.81,1682.75 787.81,1684.75 789.8,1677.77 791.8,1665.79 793.79,1649.83 795.79,1639.86 797.78,1637.46 799.78,1639.86 801.77,1645.84 803.77,1653.82 805.76,1661.8 807.76,1665.79 809.75,1661.8 811.75,1655.82 813.74,1647.84 815.74,1641.85 817.73,1635.87 819.73,1631.88 821.72,1627.89 823.72,1633.87 825.71,1647.84 827.71,1667.79 829.7,1689.74 831.7,1709.69 833.1,1725.65 835.09,1735.62 837.09,1731.63 839.08,1717.67 841.08,1697.72 843.07,1683.75 845.07,1675.77 846.66,1679.76 848.66,1693.73 850.65,1713.68 852.65,1727.64 854.64,1735.62 857.64,1737.62 860.23,1737.62 862.62,1735.62 864.62,1731.63 866.61,1725.65 868.61,1720.66 870.6,1716.67 872.6,1714.68 874.59,1713.68 876.59,1715.67 878.58,1719.66 880.58,1723.65 882.57,1729.64 884.57,1737.62 886.57,1743.6 888.56,1746.6 891.55,1745.6 894.15,1743.6 896.54,1741.61 898.54,1743.6 900.53,1747.59 902.53,1751.58 904.52,1754.58 907.51,1756.57 906.94,1756.57 927.89,1756.57 930.88,1754.58 933.88,1752.58 936.47,1750.59 938.86,1751.58 941.26,1753.58 943.85,1755.18 946.84,1755.18 949.84,1753.98 952.83,1752.58 955.22,1749.59 957.82,1746.6 960.41,1743.21 962.8,1742.01 965.2,1742.81 967.79,1744.6 970.79,1745.6 973.18,1743.6 975.17,1738.62 977.17,1733.63 979.16,1728.64 980.76,1727.24 982.76,1730.64 984.75,1735.62 986.75,1739.61 989.14,1741.61 991.73,1741.61 994.33,1740.61 996.32,1737.62 997.72,1729.64 999.12,1713.68 1000.71,1693.73 1002.31,1675.77 1003.7,1661.8 1005.1,1653.82 1006.3,1652.23 1008.29,1657.81 1010.29,1671.78 1012.28,1687.74 1013.88,1699.71 1015.68,1695.72 1017.67,1681.76 1019.67,1669.79 1021.66,1660.81 1022.66,1659.81 1024.65,1663.8 1026.65,1669.79 1028.64,1675.77 1030.64,1678.76 1032.63,1675.77 1034.63,1667.79 1036.62,1657.81 1038.62,1645.84 1040.61,1635.87 1042.61,1628.89 1044.21,1627.49 1046.2,1631.88 1048.2,1637.86 1050.59,1641.85 1052.98,1639.86 1054.98,1635.87 1057.57,1630.88 1060.17,1625.89 1061.56,1623.9 1063.56,1626.89 1065.55,1632.88 1067.55,1639.86 1070.14,1644.85 1072.54,1644.85 1074.53,1647.84 1076.53,1653.82 1078.52,1659.81 1080.92,1662.8 1082.91,1660.81 1084.91,1657.81 1086.9,1655.82 1088.9,1658.81 1090.89,1665.79 1092.89,1673.78 1094.88,1680.76 1096.88,1675.77 1098.87,1665.79 1100.87,1655.82 1102.86,1650.83 1104.86,1653.82 1106.85,1663.8 1108.85,1677.77 1110.84,1693.73 1112.44,1702.7 1114.43,1701.71 1116.43,1699.71 1118.42,1700.11 1120.02,1701.71 1120.82,1702.7" fill="none" stroke="#ff0000" stroke-width="1.95" stroke-linejoin="round"/>
<polyline points="713.99,1709.69 715.38,1697.72 716.98,1685.75 718.98,1673.78 720.97,1667.79 722.97,1664.8 724.96,1665.79 727.95,1666.79 729.95,1663.8 731.94,1660.81 734.54,1658.81 736.93,1655.82 738.53,1649.83 739.92,1639.86 740.92,1625.89 742.52,1607.94 743.91,1587.59 745.91,1580.61 747.9,1585.59 749.9,1595.57 751.89,1604.94 753.29,1603.95 755.29,1595.97 759.88,1581.6 761.87,1573.62 763.27,1563.65 764.46,1549.68 765.86,1537.71 767.86,1530.73 770.85,1528.73 772.44,1523.75 773.84,1515.77 775.84,1505.79 777.83,1499.8 779.23,1503.79 780.82,1513.77 782.42,1527.74 783.82,1547.69 784.81,1567.64 786.21,1585.59 787.21,1596.96 788.8,1589.98 790.8,1575.62 792.4,1559.66 793.79,1547.69 795.19,1540.7 796.79,1541.7 798.78,1545.69 800.78,1548.68 802.77,1543.7 804.37,1531.73 805.76,1515.77 807.16,1499.8 808.76,1483.84 809.75,1479.45 811.15,1483.84 812.75,1499.8 814.34,1515.77 815.74,1531.73 817.73,1542.7 819.13,1541.7 820.73,1537.71 822.32,1533.72 823.72,1537.71 825.12,1549.68 826.31,1569.63 827.11,1589.58 827.71,1601.95 828.71,1621.9 830.3,1641.85 831.7,1657.81 833.1,1667.79 835.09,1674.77 836.69,1671.78 838.68,1659.81 840.28,1645.84 841.68,1629.88 843.07,1615.92 844.67,1604.94 845.67,1603.95 847.06,1611.93 848.66,1629.88 850.65,1647.84 852.25,1661.8 853.65,1669.79 855.64,1665.79 857.64,1662.8 859.03,1661.8 860.63,1664.8 862.62,1669.79 864.22,1677.77 865.62,1685.75 867.61,1689.74 870.21,1691.33 872.6,1693.73 874.99,1695.32 877.59,1694.72 879.58,1692.73 881.58,1695.72 883.57,1699.71 885.57,1707.69 886.96,1717.67 888.56,1724.65 890.56,1729.64 893.55,1731.63 896.54,1732.63 898.54,1736.62 900.13,1741.61 902.13,1747.59 904.12,1753.58 906.12,1756.57 906.54,1756.57 927.89,1756.57 930.88,1749.59 932.88,1743.6 935.27,1738.62 937.27,1736.02 939.26,1739.61 941.86,1745.6 944.45,1747.99 946.44,1744.6 948.44,1739.61 950.43,1735.62 952.43,1734.03 954.43,1735.22 956.82,1735.62 958.81,1733.63 961.21,1730.64 963.8,1728.04 965.8,1729.64 967.79,1732.03 970.39,1733.23 972.38,1729.64 973.78,1721.66 975.17,1709.69 976.77,1695.72 978.37,1685.75 980.36,1679.76 982.36,1682.75 984.35,1687.74 986.35,1693.73 988.34,1695.72 990.74,1694.72 993.13,1691.73 995.72,1685.75 997.72,1677.77 999.12,1667.79 1000.71,1653.82 1002.31,1639.86 1003.7,1627.89 1005.1,1619.91 1006.7,1617.51 1008.69,1621.9 1010.69,1625.89 1012.68,1624.89 1014.28,1615.92 1015.68,1603.95 1017.07,1583.6 1018.67,1567.64 1020.26,1553.67 1022.26,1541.7 1023.86,1539.31 1025.65,1543.7 1027.05,1555.67 1028.64,1571.63 1030.64,1582.6 1032.63,1585.59 1034.63,1582.6 1036.62,1575.62 1038.62,1563.65 1040.61,1549.68 1042.61,1537.71 1044.6,1525.74 1046.6,1517.76 1048.99,1511.78 1051.59,1509.78 1053.58,1505.79 1054.98,1498.81 1056.57,1492.82 1058.17,1490.83 1060.17,1494.82 1061.56,1505.79 1062.96,1519.76 1064.56,1533.72 1066.15,1547.69 1067.55,1557.66 1069.54,1563.65 1072.14,1567.64 1074.13,1571.63 1076.13,1579.61 1078.12,1584.6 1080.12,1583.6 1082.11,1575.62 1084.11,1565.64 1086.1,1562.05 1088.1,1567.64 1089.49,1579.61 1090.89,1595.57 1092.49,1607.94 1094.08,1621.9 1095.48,1635.87 1097.47,1627.89 1099.47,1611.93 1101.46,1599.96 1103.46,1594.97 1105.46,1596.96 1107.45,1600.95 1110.04,1604.94 1112.44,1606.94 1114.83,1610.93 1116.83,1619.91 1118.42,1633.87 1120.02,1649.83 1121.02,1663.8" fill="none" stroke="#000000" stroke-width="1.95" stroke-linejoin="round"/>
<rect x="710.4" y="1426.5" width="414.7" height="335.4" fill="none" stroke="#000" stroke-width="2.8"/>
<line x1="1128.7" y1="1452.7" x2="1135.7" y2="1452.7" stroke="#ff0000" stroke-width="1.8"/>
<text x="1143.1" y="1459.6" class="lg"><tspan font-style="italic">π</tspan>-Spacer</text>
<line x1="1128.7" y1="1478.7" x2="1135.7" y2="1478.7" stroke="#008000" stroke-width="1.8"/>
<text x="1143.1" y="1485.6" class="lg">Donor</text>
<line x1="1128.7" y1="1504.7" x2="1135.7" y2="1504.7" stroke="#0000ff" stroke-width="1.8"/>
<text x="1143.1" y="1511.6" class="lg">Acceptor</text>
<line x1="1128.7" y1="1530.7" x2="1135.7" y2="1530.7" stroke="#000000" stroke-width="1.8"/>
<text x="1143.1" y="1537.6" class="lg">Total</text>
<text x="851.1" y="1861.8" class="ti" font-size="29.4">PCMD7</text>
<text x="861.5" y="1812.8" class="xl">Energy (<tspan font-style="italic">eV</tspan>)</text>
<text transform="translate(652.9,1596) rotate(-90)" text-anchor="middle" class="yl">Relative Intensity</text>
<text x="59.8" y="2240" text-anchor="end" class="t">0</text>
<text x="59.8" y="2194.48" text-anchor="end" class="t">2</text>
<text x="59.8" y="2148.96" text-anchor="end" class="t">4</text>
<text x="59.8" y="2103.44" text-anchor="end" class="t">6</text>
<text x="59.8" y="2057.92" text-anchor="end" class="t">8</text>
<text x="59.8" y="2012.4" text-anchor="end" class="t">10</text>
<text x="59.8" y="1966.88" text-anchor="end" class="t">12</text>
<text x="59.8" y="1921.36" text-anchor="end" class="t">14</text>
<text x="87.5" y="2264.2" text-anchor="middle" class="t">-15</text>
<text x="181" y="2264.2" text-anchor="middle" class="t">-10</text>
<text x="274.5" y="2264.2" text-anchor="middle" class="t">-5</text>
<text x="368" y="2264.2" text-anchor="middle" class="t">0</text>
<text x="461.5" y="2264.2" text-anchor="middle" class="t">5</text>
<path d="M62.1 2232.6H69.1M65.6 2221.22H69.1M65.6 2209.84H69.1M65.6 2198.46H69.1M62.1 2187.08H69.1M65.6 2175.7H69.1M65.6 2164.32H69.1M65.6 2152.94H69.1M62.1 2141.56H69.1M65.6 2130.18H69.1M65.6 2118.8H69.1M65.6 2107.42H69.1M62.1 2096.04H69.1M65.6 2084.66H69.1M65.6 2073.28H69.1M65.6 2061.9H69.1M62.1 2050.52H69.1M65.6 2039.14H69.1M65.6 2027.76H69.1M65.6 2016.38H69.1M62.1 2005H69.1M65.6 1993.62H69.1M65.6 1982.24H69.1M65.6 1970.86H69.1M62.1 1959.48H69.1M65.6 1948.1H69.1M65.6 1936.72H69.1M65.6 1925.34H69.1M62.1 1913.96H69.1M87.5 2239.6V2246.6M106.2 2239.6V2243.1M124.9 2239.6V2243.1M143.6 2239.6V2243.1M162.3 2239.6V2243.1M181 2239.6V2246.6M199.7 2239.6V2243.1M218.4 2239.6V2243.1M237.1 2239.6V2243.1M255.8 2239.6V2243.1M274.5 2239.6V2246.6M293.2 2239.6V2243.1M311.9 2239.6V2243.1M330.6 2239.6V2243.1M349.3 2239.6V2243.1M368 2239.6V2246.6M386.7 2239.6V2243.1M405.4 2239.6V2243.1M424.1 2239.6V2243.1M442.8 2239.6V2243.1M461.5 2239.6V2246.6M480.2 2239.6V2243.1" stroke="#000" stroke-width="1.25" fill="none"/>
<polyline points="74.99,2228.58 76.38,2224.59 78.38,2217.61 80.97,2213.62 82.97,2212.02 84.96,2213.62 86.96,2215.61 88.95,2215.61 90.95,2211.62 92.94,2206.64 94.94,2201.65 96.93,2199.25 98.93,2201.65 100.92,2206.64 102.92,2210.63 105.51,2213.62 107.51,2213.22 109.5,2210.63 111.9,2208.03 114.29,2207.23 116.89,2206.64 118.88,2204.64 120.88,2200.65 122.87,2195.66 124.87,2189.68 126.86,2181.7 128.86,2175.71 130.85,2169.73 132.85,2161.75 134.84,2151.77 136.84,2143.79 138.23,2142.79 140.23,2145.79 142.22,2157.76 144.22,2173.72 146.21,2187.68 148.21,2201.65 150.2,2210.63 152.2,2214.62 154.19,2213.62 156.19,2211.62 158.18,2209.63 160.18,2206.64 162.17,2203.64 164.17,2199.65 166.16,2193.67 167.76,2183.69 169.36,2173.72 170.75,2163.74 172.15,2156.76 173.35,2155.76 174.74,2159.75 176.14,2169.73 177.74,2179.7 179.33,2186.68 180.93,2187.68 182.72,2181.7 184.72,2176.71 186.12,2175.71 188.11,2179.7 189.71,2187.68 191.7,2201.65 193.7,2213.62 195.69,2221.6 197.69,2227.58 199.68,2229.98 201.68,2229.98 203.67,2227.58 205.67,2221.6 207.66,2213.62 209.66,2206.64 212.05,2203.64 214.65,2203.64 217.24,2202.65 219.63,2200.65 222.03,2197.66 224.02,2194.67 225.62,2193.67 227.61,2196.66 229.61,2203.64 231.6,2211.62 233.6,2219.6 235.59,2225.59 237.99,2229.18 239.98,2227.58 241.98,2221.6 243.97,2213.62 245.97,2207.63 248.56,2203.64 250.56,2205.64 252.55,2209.63 254.55,2215.61 257.14,2221.6 259.93,2226.59 263.13,2229.58 266.52,2231.57 270.51,2232.57 273.94,2232.57 319.83,2232.57 323.82,2231.18 327.81,2229.98 331.8,2229.18 335.79,2228.58 338.78,2226.59 340.78,2222.6 342.77,2215.61 344.77,2209.63 346.76,2204.64 348.76,2202.05 350.75,2200.65 352.75,2201.65 354.74,2205.64 356.74,2209.63 358.73,2212.62 360.73,2211.62 362.72,2208.63 364.72,2206.64 366.71,2209.63 368.71,2211.62 370.7,2213.62 372.7,2214.62 374.69,2213.62 376.69,2209.63 378.68,2203.64 380.68,2197.66 382.68,2191.67 384.67,2187.68 387.66,2184.69 389.66,2181.7 391.65,2178.7 393.65,2177.31 395.64,2179.7 397.64,2183.69 399.63,2187.68 402.03,2190.08 404.62,2191.27 407.61,2190.68 409.61,2187.68 411.6,2184.69 413.6,2182.1 415.59,2185.69 417.59,2190.68 419.58,2194.67 421.18,2195.66 423.18,2190.68 425.17,2183.69 427.17,2177.71 429.16,2180.7 431.16,2186.68 433.15,2192.67 435.15,2195.66 437.14,2193.67 439.14,2189.68 441.13,2186.68 442.53,2185.69 444.52,2189.68 446.52,2193.67 448.51,2195.66 451.11,2195.26 453.5,2194.07 455.5,2195.66 457.89,2198.66 460.48,2202.65 463.08,2206.64 465.47,2210.03 468.46,2212.02 471.46,2212.02 473.85,2208.63 475.85,2201.65 477.84,2193.67 479.84,2185.69 481.83,2179.7 483.03,2178.7 485.02,2182.69 487.02,2189.68" fill="none" stroke="#008000" stroke-width="1.95" stroke-linejoin="round"/>
<polyline points="74.99,2207.63 75.59,2199.65 76.98,2189.68 78.98,2182.69 80.97,2180.1 82.37,2180.1 84.36,2182.69 86.36,2189.68 88.36,2197.66 90.35,2205.64 92.35,2210.63 94.34,2212.02 96.34,2210.63 98.33,2205.64 100.33,2200.65 102.92,2197.66 105.51,2195.66 107.91,2191.67 109.9,2189.68 111.9,2191.67 113.89,2195.66 115.89,2197.66 117.88,2193.67 119.88,2187.68 121.87,2180.7 123.87,2175.71 124.87,2174.71 126.86,2178.7 128.86,2185.69 130.85,2193.67 132.85,2196.66 134.84,2189.68 136.84,2177.71 138.83,2167.73 140.83,2162.74 142.82,2169.73 144.82,2181.7 146.81,2193.67 148.81,2203.64 150.8,2211.62 152.8,2214.62 154.79,2211.62 156.79,2201.65 158.78,2187.68 160.78,2171.72 162.17,2157.76 163.37,2151.77 165.37,2155.76 167.36,2165.74 169.36,2173.72 171.75,2177.71 173.75,2175.71 175.74,2169.73 177.74,2163.74 179.73,2157.76 181.73,2151.77 183.72,2145.79 185.72,2139.8 187.71,2135.81 188.71,2134.81 190.7,2139.8 192.7,2149.78 194.69,2161.75 196.69,2173.72 198.68,2185.69 200.68,2197.66 202.68,2209.63 204.67,2217.61 206.67,2221.6 208.66,2220.6 210.66,2215.61 212.65,2207.63 214.65,2197.66 216.64,2190.68 218.04,2188.08 220.03,2190.68 222.03,2193.67 224.02,2197.66 226.02,2201.65 228.01,2205.64 230.01,2209.63 232,2215.61 234,2221.6 235.99,2226.59 237.99,2229.98 240.58,2230.58 243.57,2229.58 246.57,2229.18 249.56,2229.58 252.55,2230.58 256.54,2231.57 261.53,2231.97 267.52,2232.57 270.95,2232.57 290.9,2232.57 293.49,2228.58 295.89,2223.59 298.28,2217.61 300.88,2213.62 303.47,2211.62 305.46,2210.63 307.46,2212.62 309.45,2215.61 311.85,2216.61 313.84,2213.62 315.84,2209.63 317.83,2205.64 319.83,2203.24 321.43,2202.65 323.42,2204.64 325.42,2208.63 327.81,2213.62 329.8,2216.61 332.2,2217.61 334.19,2217.61 336.79,2219.6 339.38,2222.6 341.78,2224.59 344.17,2225.59 346.76,2225.59 348.76,2223.59 350.75,2219.6 352.75,2209.63 354.74,2197.66 356.74,2185.69 358.73,2179.3 359.73,2177.71 361.73,2183.69 363.72,2195.66 365.72,2207.63 368.11,2217.61 370.7,2222.6 373.7,2223.99 376.09,2223.59 378.09,2219.6 380.08,2209.63 382.08,2199.65 384.07,2191.67 386.07,2183.69 388.06,2178.7 389.06,2177.71 391.05,2180.7 393.05,2187.68 395.04,2193.67 397.64,2198.66 400.03,2200.65 402.63,2201.65 405.22,2203.64 407.61,2206.64 409.61,2208.03 411.6,2205.64 413.6,2201.65 415.59,2197.66 417.59,2193.67 419.58,2189.68 421.58,2186.68 423.57,2185.29 425.57,2187.68 427.57,2193.67 429.56,2201.65 431.56,2206.64 433.55,2208.63 435.55,2208.63 437.54,2208.03 439.54,2205.64 441.53,2201.65 443.93,2197.66 446.52,2191.67 448.51,2183.69 450.51,2173.72 452.5,2167.73 454.5,2171.72 456.49,2181.7 458.49,2193.67 460.48,2201.65 462.48,2207.63 464.47,2211.22 467.07,2212.62 469.46,2211.22 471.46,2207.63 473.45,2202.65 475.85,2197.66 478.44,2195.66 479.84,2196.06 481.83,2198.66 483.83,2203.64 485.42,2208.63 487.02,2211.62" fill="none" stroke="#0000ff" stroke-width="1.95" stroke-linejoin="round"/>
<polyline points="74.99,2200.65 75.99,2195.66 77.98,2193.67 79.98,2194.67 81.97,2195.66 84.36,2196.66 85.96,2195.66 87.96,2191.67 89.95,2187.68 91.95,2183.69 93.94,2181.3 96.93,2180.1 99.93,2179.7 101.92,2177.71 103.92,2175.71 105.91,2173.72 108.31,2171.72 110.9,2169.73 112.89,2165.74 114.89,2159.75 116.89,2155.76 118.88,2156.76 120.88,2159.75 122.27,2161.35 124.27,2153.77 126.26,2141.79 128.26,2131.82 130.25,2125.83 132.25,2129.82 134.24,2135.81 136.24,2136.81 138.83,2132.82 140.83,2131.42 142.82,2135.81 144.82,2141.79 146.81,2149.78 148.81,2157.76 150.2,2158.75 152.2,2151.77 154.19,2139.8 156.19,2125.83 158.18,2113.86 159.78,2108.28 161.78,2111.87 163.77,2117.85 165.77,2125.83 167.76,2133.81 169.76,2139.8 171.75,2140.8 173.75,2136.81 175.74,2129.82 177.74,2121.84 179.73,2113.86 181.73,2105.88 183.72,2100.89 185.72,2105.88 187.71,2119.85 189.71,2137.8 191.7,2159.75 193.7,2179.7 195.69,2197.66 197.69,2209.63 199.68,2205.64 201.68,2193.67 203.67,2177.71 205.67,2161.75 207.66,2153.77 208.66,2153.37 210.66,2157.76 212.65,2169.73 214.65,2185.69 216.64,2199.65 218.64,2209.63 220.63,2213.62 222.63,2215.21 225.22,2214.62 227.61,2211.62 229.61,2207.63 231.6,2203.64 233.6,2197.66 235.59,2193.67 237.59,2190.68 239.58,2189.68 241.58,2191.27 243.57,2195.66 245.57,2201.65 247.57,2208.63 249.56,2214.62 251.56,2219.6 253.55,2221.6 255.94,2221.6 258.54,2219.6 261.13,2217.61 263.13,2219.6 265.12,2223.59 267.12,2227.58 269.51,2231.18 272.5,2232.57 273.94,2232.57 290.9,2232.57 292.89,2231.18 295.49,2229.58 297.88,2227.58 300.28,2226.59 302.27,2227.58 304.87,2229.58 307.86,2231.18 310.85,2230.78 313.84,2229.58 316.84,2228.58 319.83,2227.19 322.82,2225.59 325.42,2223.59 327.81,2220.6 329.8,2218.61 332.2,2219.21 334.79,2221.2 337.79,2222.6 339.78,2219.6 341.78,2213.62 343.77,2207.63 345.77,2203.64 346.96,2203.24 348.96,2206.64 350.95,2211.62 352.95,2215.61 355.34,2217.21 357.74,2217.21 360.13,2216.61 361.73,2214.62 363.32,2207.63 364.72,2193.67 366.12,2175.71 367.71,2157.76 369.31,2141.79 370.9,2130.82 372.7,2126.83 374.69,2131.82 376.69,2145.79 378.68,2163.74 380.08,2174.71 381.68,2171.72 383.67,2157.76 385.67,2143.79 387.66,2133.81 388.86,2132.82 390.86,2137.8 392.85,2145.79 394.85,2151.77 397.24,2154.16 399.23,2152.77 401.23,2145.79 403.22,2133.81 405.22,2119.85 407.21,2107.88 409.21,2101.49 410.61,2100.3 412.6,2103.89 414.6,2109.87 417.19,2114.86 419.58,2112.87 421.98,2108.88 424.57,2103.89 427.17,2098.9 428.56,2097.9 430.56,2099.9 432.55,2105.88 434.55,2112.87 437.14,2117.85 439.54,2117.85 441.93,2117.85 443.93,2123.84 445.92,2131.82 448.51,2136.81 450.51,2134.81 452.5,2131.82 453.9,2128.83 455.9,2131.82 457.89,2137.8 459.89,2145.79 461.88,2153.77 463.08,2154.76 465.07,2149.78 467.07,2139.8 469.06,2130.82 471.46,2126.83 473.45,2129.82 475.45,2139.8 477.44,2151.77 479.44,2167.73 481.43,2181.7 483.43,2195.66 485.42,2205.64 487.02,2209.63" fill="none" stroke="#ff0000" stroke-width="1.95" stroke-linejoin="round"/>
<polyline points="74.99,2171.72 75.99,2159.75 77.58,2145.79 78.98,2133.81 80.97,2125.83 82.97,2122.84 84.96,2124.84 86.96,2131.82 88.95,2138.8 90.95,2135.81 92.94,2128.83 94.94,2123.84 97.53,2119.85 99.93,2117.85 102.92,2117.45 105.91,2114.86 107.91,2109.87 109.9,2104.89 112.3,2100.89 114.89,2097.9 116.89,2093.91 118.88,2085.93 120.28,2077.95 120.88,2066.58 122.27,2054.61 123.87,2042.64 125.46,2032.66 127.46,2026.68 129.45,2025.68 131.45,2027.68 133.44,2022.69 134.84,2010.72 135.84,1994.76 137.43,1978.79 139.03,1973.21 140.83,1978.79 142.22,1994.76 143.82,2014.71 145.42,2034.66 146.81,2054.61 147.81,2070.57 149.41,2097.9 150.8,2108.88 152.2,2109.87 153.79,2097.9 155.39,2081.94 156.79,2060.59 158.18,2038.65 159.78,2016.7 161.38,2007.72 162.77,2004.73 164.77,2010.72 166.76,2018.7 168.76,2021.69 170.75,2016.7 172.15,2008.72 173.75,2002.74 175.74,1998.75 177.74,1995.75 179.73,1990.77 181.33,1978.79 182.72,1964.83 184.12,1955.85 185.32,1954.45 186.71,1960.84 188.11,1978.79 189.71,1998.75 190.9,2018.7 192.1,2038.65 192.9,2058.6 192.7,2077.95 193.7,2097.9 195.29,2123.84 196.89,2147.78 198.68,2163.74 200.08,2167.33 201.68,2161.75 203.67,2147.78 205.67,2133.81 207.66,2121.84 209.66,2116.86 211.25,2116.26 213.25,2118.85 215.24,2121.84 217.64,2126.83 220.03,2131.82 222.03,2137.8 224.02,2143.79 226.02,2148.78 228.01,2153.77 229.61,2158.75 231.6,2167.73 233.6,2177.71 235.59,2183.69 237.59,2182.69 239.58,2178.7 241.58,2174.71 243.57,2169.73 245.17,2169.33 247.17,2172.72 249.16,2179.7 251.16,2189.68 253.15,2197.66 255.15,2203.64 257.54,2206.64 260.53,2208.63 262.53,2213.62 264.52,2219.6 266.52,2225.59 268.51,2229.98 270.51,2232.57 270.95,2232.57 290.9,2232.57 292.89,2229.58 295.49,2221.6 297.88,2214.62 300.28,2209.63 302.87,2206.64 304.87,2207.23 306.86,2210.63 309.45,2214.62 312.25,2216.61 314.24,2213.62 316.24,2205.64 318.23,2199.65 320.23,2196.06 322.22,2195.26 324.82,2195.66 327.81,2197.26 330.8,2198.66 333.4,2200.65 335.79,2202.65 338.18,2205.24 339.78,2199.65 341.38,2189.68 342.77,2179.7 344.77,2171.72 346.76,2167.73 349.36,2166.73 351.75,2164.74 353.35,2159.75 354.74,2151.77 356.74,2144.79 358.73,2141.79 360.73,2142.79 362.72,2145.79 364.12,2146.78 365.72,2139.8 367.31,2129.82 368.71,2117.85 370.11,2107.88 371.7,2099.9 372.7,2099.5 374.69,2103.89 376.09,2111.87 377.69,2121.84 379.28,2126.83 380.68,2119.85 382.08,2101.89 383.67,2081.94 386.07,2046.63 387.66,2032.66 389.26,2028.27 391.25,2032.66 393.25,2046.63 395.24,2060.59 397.24,2070.57 399.63,2075.56 401.63,2068.57 403.62,2056.6 405.62,2044.63 407.61,2034.66 409.61,2028.67 411.6,2025.68 413.6,2026.28 415.59,2029.67 417.59,2032.66 419.19,2032.26 421.18,2026.68 422.78,2016.7 424.57,2006.73 426.37,2001.74 427.96,2005.73 429.56,2016.7 431.16,2028.67 433.15,2040.64 435.15,2051.62 437.14,2053.01 439.14,2046.63 441.13,2038.65 442.73,2034.66 444.52,2040.64 446.52,2047.63 448.51,2049.02 450.51,2042.64 451.91,2032.66 453.5,2025.68 455.5,2032.66 457.49,2046.63 459.09,2062.59 460.48,2077.95 462.48,2093.91 464.47,2102.89 466.47,2097.9 468.46,2089.92 470.46,2082.94 473.05,2077.95 475.05,2080.94 477.44,2085.93 479.84,2089.92 481.83,2094.91 483.43,2103.89 485.02,2119.85 486.42,2133.81 487.02,2145.79" fill="none" stroke="#000000" stroke-width="1.95" stroke-linejoin="round"/>
<rect x="70.5" y="1900.8" width="421.3" height="337.4" fill="none" stroke="#000" stroke-width="2.8"/>
<line x1="493.9" y1="1919.5" x2="500.9" y2="1919.5" stroke="#ff0000" stroke-width="1.8"/>
<text x="509.5" y="1926.4" class="lg"><tspan font-style="italic">π</tspan>-Spacer</text>
<line x1="493.9" y1="1946.2" x2="500.9" y2="1946.2" stroke="#008000" stroke-width="1.8"/>
<text x="509.5" y="1953.1" class="lg">Donor</text>
<line x1="493.9" y1="1972.9" x2="500.9" y2="1972.9" stroke="#0000ff" stroke-width="1.8"/>
<text x="509.5" y="1979.8" class="lg">Acceptor</text>
<line x1="493.9" y1="1999.6" x2="500.9" y2="1999.6" stroke="#000000" stroke-width="1.8"/>
<text x="509.5" y="2006.5" class="lg">Total</text>
<text x="217" y="2341.8" class="ti" font-size="29.4">PCMD8</text>
<text x="226" y="2291.7" class="xl">Energy (<tspan font-style="italic">eV</tspan>)</text>
<text transform="translate(16.4,2069) rotate(-90)" text-anchor="middle" class="yl">Relative Intensity</text>
<text x="691.5" y="2242.2" text-anchor="end" class="t">0</text>
<text x="691.5" y="2197.08" text-anchor="end" class="t">2</text>
<text x="691.5" y="2151.96" text-anchor="end" class="t">4</text>
<text x="691.5" y="2106.84" text-anchor="end" class="t">6</text>
<text x="691.5" y="2061.72" text-anchor="end" class="t">8</text>
<text x="691.5" y="2016.6" text-anchor="end" class="t">10</text>
<text x="691.5" y="1971.48" text-anchor="end" class="t">12</text>
<text x="691.5" y="1926.36" text-anchor="end" class="t">14</text>
<text x="718.28" y="2267.1" text-anchor="middle" class="t">-15</text>
<text x="812.55" y="2267.1" text-anchor="middle" class="t">-10</text>
<text x="906.83" y="2267.1" text-anchor="middle" class="t">-5</text>
<text x="1001.1" y="2267.1" text-anchor="middle" class="t">0</text>
<text x="1095.38" y="2267.1" text-anchor="middle" class="t">5</text>
<path d="M693.8 2234.8H700.8M697.3 2223.52H700.8M697.3 2212.24H700.8M697.3 2200.96H700.8M693.8 2189.68H700.8M697.3 2178.4H700.8M697.3 2167.12H700.8M697.3 2155.84H700.8M693.8 2144.56H700.8M697.3 2133.28H700.8M697.3 2122H700.8M697.3 2110.72H700.8M693.8 2099.44H700.8M697.3 2088.16H700.8M697.3 2076.88H700.8M697.3 2065.6H700.8M693.8 2054.32H700.8M697.3 2043.04H700.8M697.3 2031.76H700.8M697.3 2020.48H700.8M693.8 2009.2H700.8M697.3 1997.92H700.8M697.3 1986.64H700.8M697.3 1975.36H700.8M693.8 1964.08H700.8M697.3 1952.8H700.8M697.3 1941.52H700.8M697.3 1930.24H700.8M693.8 1918.96H700.8M718.28 2242.5V2249.5M737.13 2242.5V2246M755.99 2242.5V2246M774.84 2242.5V2246M793.7 2242.5V2246M812.55 2242.5V2249.5M831.4 2242.5V2246M850.26 2242.5V2246M869.12 2242.5V2246M887.97 2242.5V2246M906.83 2242.5V2249.5M925.68 2242.5V2246M944.54 2242.5V2246M963.39 2242.5V2246M982.25 2242.5V2246M1001.1 2242.5V2249.5M1019.96 2242.5V2246M1038.81 2242.5V2246M1057.66 2242.5V2246M1076.52 2242.5V2246M1095.38 2242.5V2249.5M1114.23 2242.5V2246" stroke="#000" stroke-width="1.25" fill="none"/>
<polyline points="705.99,2230.58 707.38,2226.59 709.38,2219.61 711.97,2215.62 713.97,2213.62 715.96,2216.62 717.96,2219.61 719.95,2221.6 721.95,2216.62 723.94,2211.63 725.94,2205.64 727.93,2202.05 729.93,2204.65 731.92,2209.63 733.92,2213.62 736.51,2216.02 738.51,2215.62 740.5,2212.63 742.9,2210.03 745.29,2209.63 747.89,2209.23 749.88,2206.64 751.88,2201.65 753.87,2195.67 755.87,2189.68 757.86,2183.7 759.86,2177.71 761.85,2171.73 763.85,2163.75 765.84,2153.77 767.84,2146.79 769.23,2145.39 771.23,2148.78 773.22,2159.76 775.22,2175.72 777.21,2191.68 779.21,2205.64 781.2,2213.62 783.8,2217.61 785.79,2217.21 787.79,2214.62 789.78,2211.63 791.78,2208.64 793.77,2205.64 795.77,2202.65 797.76,2197.66 799.16,2187.69 800.76,2175.72 802.35,2165.74 803.75,2158.76 805.14,2157.36 806.74,2161.75 808.34,2171.73 809.93,2181.7 811.73,2187.69 813.13,2189.68 814.72,2184.69 816.72,2179.71 818.11,2178.71 820.11,2183.7 821.7,2193.67 823.7,2207.64 825.69,2219.61 827.69,2227.59 829.68,2231.58 831.68,2233.18 833.68,2233.18 835.67,2230.58 837.67,2223.6 839.66,2215.62 841.66,2209.63 843.65,2206.64 846.24,2205.64 848.64,2204.65 851.03,2202.65 853.63,2199.66 855.62,2197.66 857.02,2196.67 859.01,2199.66 861.01,2206.64 863,2215.62 865,2223.6 867.59,2229.58 870.19,2231.98 872.18,2229.58 874.18,2223.6 876.17,2215.62 878.17,2209.63 880.16,2205.64 881.56,2205.24 883.55,2208.64 885.55,2213.62 887.54,2219.61 890.14,2225.59 892.93,2229.58 896.12,2231.98 899.51,2233.97 903.5,2235.17 906.94,2235.17 952.83,2235.17 956.82,2233.57 960.81,2231.98 964.8,2231.18 968.79,2231.18 972.78,2229.19 975.77,2223.6 977.77,2215.62 979.76,2209.63 981.76,2205.64 983.75,2203.25 985.75,2203.65 987.74,2206.64 989.74,2210.63 991.73,2214.62 993.73,2214.62 995.72,2211.63 997.72,2209.63 999.71,2210.63 1001.71,2212.63 1003.7,2215.62 1005.7,2217.61 1007.69,2217.61 1009.69,2214.62 1011.68,2209.63 1013.68,2203.65 1015.68,2197.66 1017.67,2193.67 1020.66,2190.68 1022.66,2188.68 1024.65,2184.69 1027.05,2180.7 1029.04,2182.7 1031.04,2187.69 1033.03,2190.68 1035.63,2192.68 1038.62,2194.07 1041.61,2194.67 1044.21,2191.68 1046.2,2187.69 1048.2,2185.29 1050.19,2187.69 1052.19,2193.67 1054.18,2198.66 1056.18,2195.67 1058.17,2189.68 1060.17,2182.7 1062.16,2180.7 1064.16,2184.69 1066.15,2191.68 1068.15,2197.66 1070.14,2195.67 1072.14,2191.68 1074.13,2188.68 1076.13,2191.68 1078.12,2195.67 1080.52,2199.66 1083.51,2201.65 1086.1,2199.66 1088.5,2197.66 1090.49,2199.66 1092.89,2203.65 1095.48,2207.64 1098.47,2211.63 1101.46,2213.62 1104.46,2214.02 1107.45,2212.63 1109.45,2207.64 1111.44,2199.66 1113.44,2191.68 1115.43,2184.69 1118.02,2180.7 1120.02,2185.69 1122.01,2197.66" fill="none" stroke="#008000" stroke-width="1.95" stroke-linejoin="round"/>
<polyline points="705.99,2225.59 707.38,2219.61 709.38,2213.62 711.37,2209.63 713.37,2206.64 714.57,2206.04 716.56,2209.63 718.56,2215.62 720.55,2221.6 722.55,2225.2 724.54,2225.59 726.54,2223.6 728.53,2217.61 730.53,2209.63 732.52,2201.65 734.52,2195.67 736.51,2191.68 738.51,2194.67 740.5,2199.66 742.5,2202.65 744.49,2202.65 746.49,2199.66 748.48,2193.67 750.48,2183.7 752.47,2175.72 754.47,2170.73 756.46,2168.73 758.46,2171.73 760.45,2177.71 762.45,2185.69 764.44,2192.68 766.84,2196.67 768.83,2193.67 770.83,2187.69 772.82,2181.7 774.42,2179.31 776.42,2182.7 778.41,2187.69 780.41,2191.68 782.8,2192.68 784.79,2192.68 786.79,2187.69 788.39,2175.72 789.78,2157.76 791.18,2139.8 792.78,2123.84 794.37,2112.87 795.17,2110.88 796.77,2115.86 798.36,2125.84 799.76,2135.81 801.15,2140.8 802.75,2141.8 804.75,2137.81 806.74,2131.82 808.34,2130.83 809.93,2137.81 811.73,2153.77 813.13,2171.73 814.72,2187.69 816.72,2197.66 819.11,2202.65 821.7,2205.24 824.3,2206.04 826.29,2207.64 828.69,2211.63 831.08,2216.62 833.68,2221.6 836.67,2224.6 839.66,2225.59 842.25,2225.59 844.25,2221.6 846.24,2213.62 848.24,2203.65 850.23,2195.67 851.83,2192.08 853.83,2194.67 855.82,2199.66 857.82,2204.65 859.81,2209.63 861.81,2213.62 863.8,2217.61 865.8,2222.6 867.79,2227.59 870.19,2231.18 872.98,2231.98 876.17,2231.18 879.56,2231.18 882.56,2231.58 885.55,2232.78 889.54,2233.57 894.53,2234.37 900.51,2234.77 902.51,2235.17 902.95,2235.17 923.9,2235.17 926.49,2231.18 929.29,2225.59 931.88,2221.21 933.88,2221.6 936.47,2223.6 938.86,2224 941.26,2221.21 943.85,2217.61 946.44,2215.22 948.44,2217.61 950.83,2220.61 953.23,2222 955.82,2222.6 958.42,2224.6 961.21,2225.59 963.2,2223.6 965.2,2220.61 967.79,2217.61 970.39,2214.62 971.78,2214.02 973.78,2216.62 975.77,2220.61 978.37,2224.6 980.76,2227.19 982.76,2224.6 984.75,2219.61 986.75,2213.62 988.74,2207.64 991.73,2203.25 992.73,2202.65 994.73,2206.64 996.72,2211.63 998.72,2215.62 1001.11,2217.61 1003.11,2213.62 1005.1,2207.64 1007.1,2203.65 1009.69,2200.66 1011.68,2197.66 1013.68,2191.68 1015.68,2183.7 1017.67,2177.71 1019.67,2171.73 1021.66,2165.74 1023.66,2162.15 1025.65,2165.74 1027.65,2173.72 1029.64,2181.7 1031.64,2187.69 1033.63,2195.67 1035.63,2203.65 1037.62,2209.63 1040.61,2213.22 1042.61,2209.63 1044.6,2205.64 1046.6,2201.65 1048.99,2199.66 1050.99,2201.65 1052.98,2205.64 1054.98,2209.63 1057.57,2213.62 1060.57,2216.62 1062.56,2217.61 1064.56,2214.62 1066.55,2207.64 1068.55,2199.66 1070.54,2191.68 1072.54,2187.69 1074.93,2186.69 1076.93,2189.68 1079.52,2191.68 1081.51,2189.68 1083.51,2183.7 1085.5,2176.71 1087.5,2169.73 1088.9,2168.73 1090.89,2173.72 1092.89,2183.7 1094.88,2195.67 1096.88,2205.64 1098.87,2213.62 1100.87,2216.02 1102.86,2213.62 1104.86,2207.64 1106.85,2201.65 1108.85,2197.66 1111.44,2193.67 1113.44,2191.68 1115.43,2195.67 1117.43,2199.66 1119.42,2203.65 1121.42,2211.63 1122.01,2213.62" fill="none" stroke="#0000ff" stroke-width="1.95" stroke-linejoin="round"/>
<polyline points="705.99,2203.65 707.38,2199.66 708.98,2197.26 710.98,2195.67 712.97,2196.67 715.36,2197.66 717.96,2197.66 719.95,2195.27 721.95,2190.68 723.94,2186.69 725.94,2183.7 728.93,2182.7 731.92,2182.1 733.92,2179.31 735.91,2175.72 737.91,2173.72 739.9,2172.72 741.9,2169.73 743.89,2165.74 745.89,2161.75 747.89,2158.76 749.88,2160.75 751.88,2163.75 753.27,2164.74 755.27,2155.77 757.26,2143.79 759.26,2131.82 760.85,2127.83 762.85,2130.83 764.84,2137.81 766.84,2139.8 769.83,2135.81 771.83,2133.42 773.82,2136.81 775.82,2143.79 777.81,2153.77 779.81,2160.75 781.8,2160.75 783.8,2151.78 785.79,2135.81 787.79,2121.85 789.78,2113.87 791.78,2112.87 793.77,2117.86 795.77,2127.83 797.76,2137.81 799.76,2142.8 801.75,2143.79 803.75,2139.8 805.74,2133.82 807.74,2125.84 809.73,2119.85 811.73,2111.87 813.72,2105.89 815.72,2103.89 817.71,2109.88 819.71,2123.84 821.7,2143.79 823.7,2167.74 825.69,2187.69 827.69,2203.65 829.68,2212.63 830.68,2213.62 832.68,2203.65 834.67,2183.7 836.67,2167.74 838.66,2157.76 840.66,2154.77 842.65,2159.76 844.65,2171.73 846.64,2187.69 848.64,2201.65 850.63,2211.63 852.63,2216.62 855.02,2217.61 857.62,2216.62 859.61,2213.62 861.61,2208.64 863.6,2203.65 865.6,2199.66 868.59,2195.67 871.58,2192.68 873.58,2193.67 875.57,2197.66 877.57,2203.65 879.56,2211.63 881.56,2219.61 883.55,2223.6 885.55,2224.6 888.54,2223.6 891.53,2220.61 893.53,2219.61 895.52,2221.6 897.52,2225.59 899.51,2229.58 901.51,2232.58 904.5,2235.17 906.94,2235.17 923.9,2235.17 926.89,2233.18 929.89,2230.58 932.88,2228.59 935.27,2229.98 937.87,2231.98 940.86,2233.18 943.85,2233.18 946.84,2231.98 949.84,2229.98 952.83,2227.59 955.82,2225.59 958.81,2224 961.81,2222.6 963.8,2221.6 966.4,2222.6 968.79,2224 971.78,2223.6 973.78,2219.61 975.77,2214.62 977.77,2209.63 979.76,2206.64 981.76,2208.64 983.75,2213.62 985.75,2217.61 988.34,2219.61 990.74,2220.61 993.13,2219.61 995.72,2217.61 997.12,2211.63 998.32,2199.66 999.71,2179.71 1001.11,2159.76 1002.71,2139.8 1004.3,2131.82 1005.7,2129.83 1007.69,2135.81 1009.69,2149.78 1011.68,2165.74 1013.68,2177.71 1015.08,2173.72 1017.07,2159.76 1019.07,2145.79 1021.06,2137.81 1023.06,2135.81 1025.05,2139.8 1027.05,2147.79 1029.04,2153.77 1031.04,2156.76 1033.03,2154.77 1035.03,2147.79 1037.02,2137.81 1039.02,2125.84 1041.01,2113.87 1043.01,2106.89 1045,2104.29 1047,2107.88 1048.99,2112.87 1051.59,2116.86 1054.18,2115.86 1056.57,2111.87 1058.97,2107.88 1061.56,2102.89 1063.56,2100.9 1065.55,2102.89 1067.55,2107.88 1069.54,2113.87 1071.54,2118.86 1074.53,2119.85 1076.93,2123.84 1078.92,2129.83 1081.51,2136.81 1083.51,2140.8 1085.5,2138.81 1087.5,2134.82 1089.49,2132.82 1091.49,2134.82 1093.48,2141.8 1095.48,2149.78 1097.47,2157.76 1098.47,2158.76 1100.47,2151.78 1102.46,2139.8 1104.46,2129.83 1106.05,2127.83 1108.05,2131.82 1110.04,2141.8 1112.04,2153.77 1114.03,2167.74 1116.03,2181.7 1118.02,2193.67 1120.02,2201.65 1122.01,2207.64" fill="none" stroke="#ff0000" stroke-width="1.95" stroke-linejoin="round"/>
<polyline points="705.99,2189.68 706.99,2175.72 708.58,2163.75 710.58,2153.77 712.57,2147.79 713.97,2146.19 715.96,2149.78 717.96,2157.76 719.95,2163.75 721.95,2157.76 723.94,2147.79 725.94,2139.8 728.53,2133.82 730.93,2127.83 732.92,2119.85 734.92,2113.87 737.31,2110.88 739.31,2113.87 740.9,2115.86 742.9,2111.87 744.89,2105.89 746.89,2097.91 748.88,2089.93 750.48,2079.95 751.88,2068.58 753.27,2056.61 754.87,2040.65 756.46,2024.69 758.46,2015.71 760.45,2012.32 762.45,2014.71 764.44,2018.7 766.44,2014.71 768.04,2008.73 769.83,1998.75 771.83,1995.76 773.22,2000.75 774.82,2016.71 776.42,2034.66 777.81,2052.62 779.21,2070.57 780.8,2091.92 782.2,2095.51 783.8,2087.93 785.19,2075.96 786.39,2066.58 787.79,2044.64 788.79,2020.7 790.38,1996.76 792.38,1976.8 793.77,1966.83 795.17,1965.83 796.77,1972.81 798.76,1984.79 800.36,1990.77 801.95,1982.79 803.55,1972.81 804.75,1962.84 806.34,1958.85 807.74,1960.84 809.14,1972.81 810.73,1988.78 811.93,2004.74 813.13,2010.72 815.72,2012.72 817.71,2015.71 819.11,2026.68 820.31,2044.64 821.5,2066.58 821.7,2079.95 822.7,2099.9 824.3,2123.84 825.89,2149.78 827.69,2171.73 829.68,2187.69 831.68,2194.07 833.08,2187.69 834.67,2171.73 836.67,2151.78 838.66,2135.81 840.66,2125.84 842.25,2121.85 844.25,2124.84 846.24,2129.83 848.64,2133.82 851.03,2135.81 853.63,2139.8 855.62,2143.79 857.62,2149.78 859.61,2155.77 861.61,2163.75 863.6,2171.73 865.6,2179.71 867.59,2183.7 870.19,2183.7 872.18,2179.71 874.57,2175.72 876.57,2172.72 878.17,2172.13 880.16,2175.72 882.16,2183.7 883.75,2193.67 885.55,2201.65 887.54,2206.64 890.54,2208.64 892.53,2211.63 894.53,2217.61 896.52,2225.59 898.52,2231.58 900.51,2233.57 902.51,2235.17 902.95,2235.17 923.9,2235.17 925.89,2232.58 928.49,2225.59 930.88,2217.61 932.88,2214.02 934.87,2216.62 937.27,2220.61 939.26,2221.21 941.26,2217.61 943.25,2214.62 945.85,2213.22 947.84,2214.02 950.43,2215.62 952.43,2214.62 954.82,2211.63 957.82,2210.63 960.41,2210.03 962.8,2208.04 965.2,2205.64 967.79,2203.25 970.39,2199.66 972.38,2195.67 974.38,2189.68 976.37,2181.7 978.37,2173.72 980.36,2169.73 982.76,2169.33 985.15,2167.74 987.14,2166.74 989.74,2165.74 992.33,2166.74 994.73,2167.74 996.72,2165.74 998.32,2155.77 999.71,2139.8 1001.11,2119.85 1002.71,2099.9 1004.3,2085.94 1005.7,2079.95 1007.69,2085.94 1009.69,2095.91 1011.68,2102.89 1013.68,2097.91 1015.68,2083.94 1017.67,2062.59 1019.07,2044.64 1020.66,2026.68 1022.26,2016.71 1024.25,2012.72 1026.25,2018.7 1027.65,2032.67 1029.64,2048.63 1031.64,2062.59 1034.23,2067.58 1036.22,2068.98 1038.22,2064.59 1040.21,2054.61 1042.21,2042.64 1044.21,2032.67 1046.2,2025.68 1048.2,2022.69 1050.19,2028.68 1052.19,2040.65 1054.18,2049.63 1054.98,2050.62 1056.97,2044.64 1058.97,2034.66 1060.96,2028.68 1062.56,2026.68 1064.56,2030.67 1066.55,2038.65 1068.55,2042.64 1070.54,2042.24 1072.54,2034.66 1074.13,2025.68 1075.13,2023.69 1076.93,2028.68 1078.52,2040.65 1080.52,2050.62 1082.11,2052.22 1084.11,2044.64 1086.1,2034.66 1088.1,2027.68 1089.49,2027.08 1091.49,2034.66 1092.89,2048.63 1094.48,2066.58 1096.08,2095.91 1097.47,2111.87 1099.47,2105.89 1101.46,2093.92 1103.46,2083.94 1105.46,2078.95 1107.45,2077.56 1110.04,2079.95 1112.44,2083.94 1114.83,2087.93 1116.83,2092.92 1118.42,2099.9 1120.02,2115.86 1121.42,2133.82 1122.01,2151.78" fill="none" stroke="#000000" stroke-width="1.95" stroke-linejoin="round"/>
<rect x="702.2" y="1902.5" width="425.6" height="338.6" fill="none" stroke="#000" stroke-width="2.8"/>
<line x1="1129.2" y1="1924.8" x2="1136.2" y2="1924.8" stroke="#ff0000" stroke-width="1.8"/>
<text x="1144.1" y="1931.7" class="lg"><tspan font-style="italic">π</tspan>-Spacer</text>
<line x1="1129.2" y1="1950.6" x2="1136.2" y2="1950.6" stroke="#008000" stroke-width="1.8"/>
<text x="1144.1" y="1957.5" class="lg">Donor</text>
<line x1="1129.2" y1="1976.4" x2="1136.2" y2="1976.4" stroke="#0000ff" stroke-width="1.8"/>
<text x="1144.1" y="1983.3" class="lg">Acceptor</text>
<line x1="1129.2" y1="2002.2" x2="1136.2" y2="2002.2" stroke="#000000" stroke-width="1.8"/>
<text x="1144.1" y="2009.1" class="lg">Total</text>
<text x="850.4" y="2341.8" class="ti" font-size="29.4">PCMD9</text>
<text x="860.2" y="2290.6" class="xl">Energy (<tspan font-style="italic">eV</tspan>)</text>
<text transform="translate(647.9,2073) rotate(-90)" text-anchor="middle" class="yl">Relative Intensity</text>
</svg>
</body></html>
